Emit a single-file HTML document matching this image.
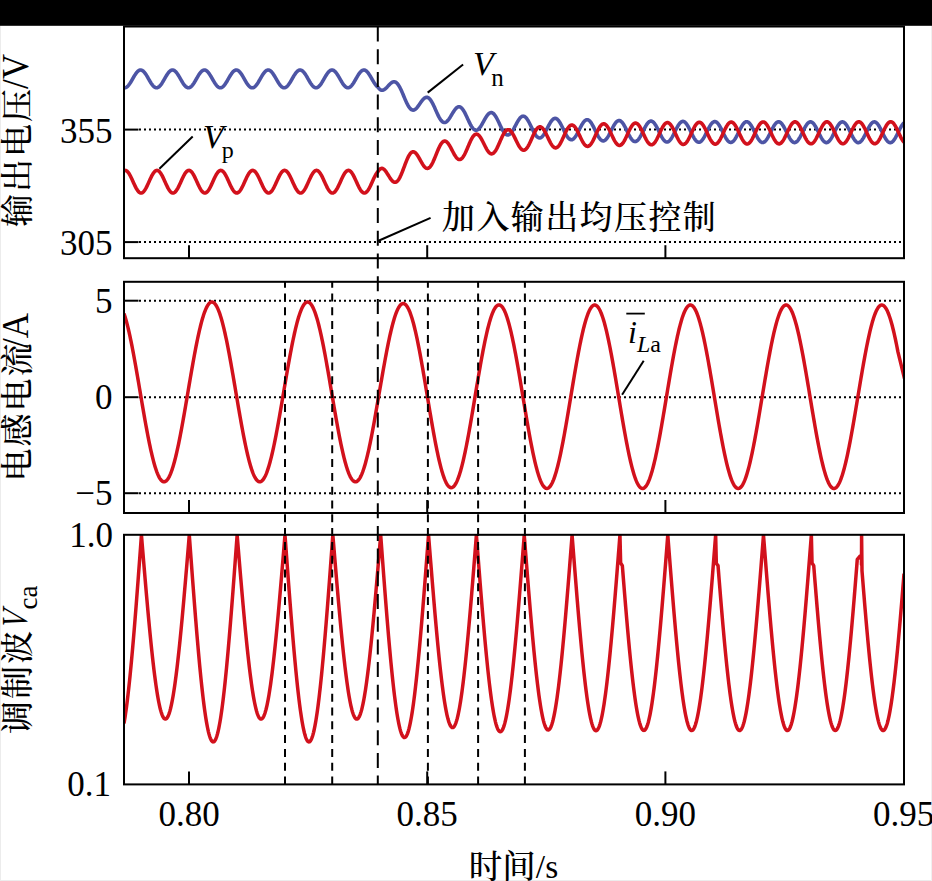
<!DOCTYPE html>
<html><head><meta charset="utf-8"><style>
html,body{margin:0;padding:0;background:#fff;}
body{width:932px;height:881px;overflow:hidden;}
svg{display:block;}
</style></head><body>
<svg width="932" height="881" viewBox="0 0 932 881">
<rect x="0" y="0" width="932" height="881" fill="#fff"/>
<rect x="0" y="0" width="1" height="881" fill="#ececec"/>
<rect x="0" y="880" width="932" height="1" fill="#ececec"/>
<rect x="931" y="0" width="1" height="881" fill="#f0f0f0"/>
<line x1="139" y1="129.6" x2="903.0" y2="129.6" stroke="#000" stroke-width="2" stroke-dasharray="2 3"/>
<line x1="139" y1="242.1" x2="903.0" y2="242.1" stroke="#000" stroke-width="2" stroke-dasharray="2 3"/>
<line x1="139" y1="300.7" x2="903.0" y2="300.7" stroke="#000" stroke-width="2" stroke-dasharray="2 3"/>
<line x1="139" y1="397.2" x2="903.0" y2="397.2" stroke="#000" stroke-width="2" stroke-dasharray="2 3"/>
<line x1="139" y1="493.2" x2="903.0" y2="493.2" stroke="#000" stroke-width="2" stroke-dasharray="2 3"/>
<defs><clipPath id="c0"><rect x="124.0" y="26.5" width="780.0" height="231.7"/></clipPath><clipPath id="c1"><rect x="124.0" y="281.8" width="780.0" height="231.2"/></clipPath><clipPath id="c2"><rect x="124.0" y="534.8" width="780.0" height="249.60000000000002"/></clipPath></defs>
<g clip-path="url(#c0)"><path d="M124.00,87.73 L124.50,87.80 L125.00,87.78 L125.50,87.68 L126.00,87.49 L126.50,87.22 L127.00,86.86 L127.50,86.43 L128.00,85.93 L128.50,85.36 L129.00,84.73 L129.50,84.04 L130.00,83.30 L130.50,82.52 L131.00,81.70 L131.50,80.86 L132.00,79.99 L132.50,79.12 L133.00,78.24 L133.50,77.37 L134.00,76.52 L134.50,75.69 L135.00,74.89 L135.50,74.13 L136.00,73.41 L136.50,72.75 L137.00,72.15 L137.50,71.61 L138.00,71.14 L138.50,70.75 L139.00,70.44 L139.50,70.21 L140.00,70.06 L140.50,70.00 L141.00,70.03 L141.50,70.14 L142.00,70.34 L142.50,70.62 L143.00,70.98 L143.50,71.41 L144.00,71.92 L144.50,72.50 L145.00,73.14 L145.50,73.83 L146.00,74.58 L146.50,75.36 L147.00,76.18 L147.50,77.03 L148.00,77.89 L148.50,78.77 L149.00,79.64 L149.50,80.51 L150.00,81.37 L150.50,82.19 L151.00,82.99 L151.50,83.75 L152.00,84.46 L152.50,85.12 L153.00,85.71 L153.50,86.24 L154.00,86.70 L154.50,87.08 L155.00,87.39 L155.50,87.61 L156.00,87.75 L156.50,87.80 L157.00,87.77 L157.50,87.64 L158.00,87.44 L158.50,87.15 L159.00,86.78 L159.50,86.34 L160.00,85.82 L160.50,85.24 L161.00,84.59 L161.50,83.89 L162.00,83.15 L162.50,82.36 L163.00,81.53 L163.50,80.68 L164.00,79.82 L164.50,78.94 L165.00,78.07 L165.50,77.20 L166.00,76.35 L166.50,75.52 L167.00,74.73 L167.50,73.98 L168.00,73.27 L168.50,72.62 L169.00,72.03 L169.50,71.51 L170.00,71.06 L170.50,70.68 L171.00,70.39 L171.50,70.17 L172.00,70.04 L172.50,70.00 L173.00,70.04 L173.50,70.17 L174.00,70.39 L174.50,70.68 L175.00,71.06 L175.50,71.51 L176.00,72.03 L176.50,72.62 L177.00,73.27 L177.50,73.98 L178.00,74.73 L178.50,75.52 L179.00,76.35 L179.50,77.20 L180.00,78.07 L180.50,78.94 L181.00,79.82 L181.50,80.68 L182.00,81.53 L182.50,82.36 L183.00,83.15 L183.50,83.89 L184.00,84.59 L184.50,85.24 L185.00,85.82 L185.50,86.34 L186.00,86.78 L186.50,87.15 L187.00,87.44 L187.50,87.64 L188.00,87.77 L188.50,87.80 L189.00,87.75 L189.50,87.61 L190.00,87.39 L190.50,87.08 L191.00,86.70 L191.50,86.24 L192.00,85.71 L192.50,85.12 L193.00,84.46 L193.50,83.75 L194.00,82.99 L194.50,82.19 L195.00,81.37 L195.50,80.51 L196.00,79.64 L196.50,78.77 L197.00,77.89 L197.50,77.03 L198.00,76.18 L198.50,75.36 L199.00,74.58 L199.50,73.83 L200.00,73.14 L200.50,72.50 L201.00,71.92 L201.50,71.41 L202.00,70.98 L202.50,70.62 L203.00,70.34 L203.50,70.14 L204.00,70.03 L204.50,70.00 L205.00,70.06 L205.50,70.21 L206.00,70.44 L206.50,70.75 L207.00,71.14 L207.50,71.61 L208.00,72.15 L208.50,72.75 L209.00,73.41 L209.50,74.13 L210.00,74.89 L210.50,75.69 L211.00,76.52 L211.50,77.37 L212.00,78.24 L212.50,79.12 L213.00,79.99 L213.50,80.86 L214.00,81.70 L214.50,82.52 L215.00,83.30 L215.50,84.04 L216.00,84.73 L216.50,85.36 L217.00,85.93 L217.50,86.43 L218.00,86.86 L218.50,87.22 L219.00,87.49 L219.50,87.68 L220.00,87.78 L220.50,87.80 L221.00,87.73 L221.50,87.57 L222.00,87.33 L222.50,87.01 L223.00,86.61 L223.50,86.14 L224.00,85.60 L224.50,84.99 L225.00,84.32 L225.50,83.60 L226.00,82.83 L226.50,82.03 L227.00,81.20 L227.50,80.34 L228.00,79.47 L228.50,78.59 L229.00,77.72 L229.50,76.86 L230.00,76.02 L230.50,75.20 L231.00,74.42 L231.50,73.69 L232.00,73.01 L232.50,72.38 L233.00,71.81 L233.50,71.32 L234.00,70.90 L234.50,70.55 L235.00,70.29 L235.50,70.11 L236.00,70.02 L236.50,70.01 L237.00,70.08 L237.50,70.25 L238.00,70.49 L238.50,70.82 L239.00,71.23 L239.50,71.71 L240.00,72.26 L240.50,72.88 L241.00,73.55 L241.50,74.27 L242.00,75.04 L242.50,75.85 L243.00,76.69 L243.50,77.55 L244.00,78.42 L244.50,79.29 L245.00,80.17 L245.50,81.03 L246.00,81.87 L246.50,82.68 L247.00,83.45 L247.50,84.18 L248.00,84.86 L248.50,85.48 L249.00,86.04 L249.50,86.53 L250.00,86.94 L250.50,87.28 L251.00,87.53 L251.50,87.70 L252.00,87.79 L252.50,87.79 L253.00,87.70 L253.50,87.53 L254.00,87.28 L254.50,86.94 L255.00,86.53 L255.50,86.04 L256.00,85.48 L256.50,84.86 L257.00,84.18 L257.50,83.45 L258.00,82.68 L258.50,81.87 L259.00,81.03 L259.50,80.17 L260.00,79.29 L260.50,78.42 L261.00,77.55 L261.50,76.69 L262.00,75.85 L262.50,75.04 L263.00,74.27 L263.50,73.55 L264.00,72.88 L264.50,72.26 L265.00,71.71 L265.50,71.23 L266.00,70.82 L266.50,70.49 L267.00,70.25 L267.50,70.08 L268.00,70.01 L268.50,70.02 L269.00,70.11 L269.50,70.29 L270.00,70.55 L270.50,70.90 L271.00,71.32 L271.50,71.81 L272.00,72.38 L272.50,73.01 L273.00,73.69 L273.50,74.42 L274.00,75.20 L274.50,76.02 L275.00,76.86 L275.50,77.72 L276.00,78.59 L276.50,79.47 L277.00,80.34 L277.50,81.20 L278.00,82.03 L278.50,82.83 L279.00,83.60 L279.50,84.32 L280.00,84.99 L280.50,85.60 L281.00,86.14 L281.50,86.61 L282.00,87.01 L282.50,87.33 L283.00,87.57 L283.50,87.73 L284.00,87.80 L284.50,87.78 L285.00,87.68 L285.50,87.49 L286.00,87.22 L286.50,86.86 L287.00,86.43 L287.50,85.93 L288.00,85.36 L288.50,84.73 L289.00,84.04 L289.50,83.30 L290.00,82.52 L290.50,81.70 L291.00,80.86 L291.50,79.99 L292.00,79.12 L292.50,78.24 L293.00,77.37 L293.50,76.52 L294.00,75.69 L294.50,74.89 L295.00,74.13 L295.50,73.41 L296.00,72.75 L296.50,72.15 L297.00,71.61 L297.50,71.14 L298.00,70.75 L298.50,70.44 L299.00,70.21 L299.50,70.06 L300.00,70.00 L300.50,70.03 L301.00,70.14 L301.50,70.34 L302.00,70.62 L302.50,70.98 L303.00,71.41 L303.50,71.92 L304.00,72.50 L304.50,73.14 L305.00,73.83 L305.50,74.58 L306.00,75.36 L306.50,76.18 L307.00,77.03 L307.50,77.89 L308.00,78.77 L308.50,79.64 L309.00,80.51 L309.50,81.37 L310.00,82.19 L310.50,82.99 L311.00,83.75 L311.50,84.46 L312.00,85.12 L312.50,85.71 L313.00,86.24 L313.50,86.70 L314.00,87.08 L314.50,87.39 L315.00,87.61 L315.50,87.75 L316.00,87.80 L316.50,87.77 L317.00,87.64 L317.50,87.44 L318.00,87.15 L318.50,86.78 L319.00,86.34 L319.50,85.82 L320.00,85.24 L320.50,84.59 L321.00,83.89 L321.50,83.15 L322.00,82.36 L322.50,81.53 L323.00,80.68 L323.50,79.82 L324.00,78.94 L324.50,78.07 L325.00,77.20 L325.50,76.35 L326.00,75.52 L326.50,74.73 L327.00,73.98 L327.50,73.27 L328.00,72.62 L328.50,72.03 L329.00,71.51 L329.50,71.06 L330.00,70.68 L330.50,70.39 L331.00,70.17 L331.50,70.04 L332.00,70.00 L332.50,70.04 L333.00,70.17 L333.50,70.39 L334.00,70.68 L334.50,71.06 L335.00,71.51 L335.50,72.03 L336.00,72.62 L336.50,73.27 L337.00,73.98 L337.50,74.73 L338.00,75.52 L338.50,76.35 L339.00,77.20 L339.50,78.07 L340.00,78.94 L340.50,79.82 L341.00,80.68 L341.50,81.53 L342.00,82.36 L342.50,83.15 L343.00,83.89 L343.50,84.59 L344.00,85.24 L344.50,85.82 L345.00,86.34 L345.50,86.78 L346.00,87.15 L346.50,87.44 L347.00,87.64 L347.50,87.77 L348.00,87.80 L348.50,87.75 L349.00,87.61 L349.50,87.39 L350.00,87.08 L350.50,86.70 L351.00,86.24 L351.50,85.71 L352.00,85.12 L352.50,84.46 L353.00,83.75 L353.50,82.99 L354.00,82.19 L354.50,81.37 L355.00,80.51 L355.50,79.64 L356.00,78.77 L356.50,77.89 L357.00,77.03 L357.50,76.18 L358.00,75.36 L358.50,74.58 L359.00,73.83 L359.50,73.14 L360.00,72.50 L360.50,71.92 L361.00,71.41 L361.50,70.98 L362.00,70.62 L362.50,70.34 L363.00,70.14 L363.50,70.03 L364.00,70.00 L364.50,70.06 L365.00,70.21 L365.50,70.44 L366.00,70.75 L366.50,71.14 L367.00,71.61 L367.50,72.15 L368.00,72.75 L368.50,73.41 L369.00,74.13 L369.50,74.89 L370.00,75.69 L370.50,76.52 L371.00,77.37 L371.50,78.24 L372.00,79.12 L372.50,79.99 L373.00,80.86 L373.50,81.70 L374.00,82.52 L374.50,83.30 L375.00,84.04 L375.50,84.73 L376.00,85.36 L376.50,85.93 L377.00,86.43 L377.50,86.86 L378.00,87.22 L378.50,87.90 L379.00,88.50 L379.50,89.01 L380.00,89.43 L380.50,89.77 L381.00,90.01 L381.50,90.17 L382.00,90.23 L382.50,90.22 L383.00,90.13 L383.50,89.96 L384.00,89.72 L384.50,89.41 L385.00,89.05 L385.50,88.64 L386.00,88.19 L386.50,87.70 L387.00,87.18 L387.50,86.64 L388.00,86.09 L388.50,85.55 L389.00,85.00 L389.50,84.48 L390.00,83.98 L390.50,83.51 L391.00,83.08 L391.50,82.70 L392.00,82.38 L392.50,82.11 L393.00,81.92 L393.50,81.79 L394.00,81.75 L394.50,81.78 L395.00,81.90 L395.50,82.10 L396.00,82.40 L396.50,82.77 L397.00,83.24 L397.50,83.79 L398.00,84.43 L398.50,85.14 L399.00,85.93 L399.50,86.80 L400.00,87.72 L400.50,88.71 L401.00,89.76 L401.50,90.85 L402.00,91.97 L402.50,93.13 L403.00,94.31 L403.50,95.51 L404.00,96.70 L404.50,97.90 L405.00,99.08 L405.50,100.23 L406.00,101.36 L406.50,102.45 L407.00,103.48 L407.50,104.47 L408.00,105.39 L408.50,106.24 L409.00,107.02 L409.50,107.72 L410.00,108.34 L410.50,108.86 L411.00,109.30 L411.50,109.64 L412.00,109.89 L412.50,110.05 L413.00,110.11 L413.50,110.08 L414.00,109.96 L414.50,109.76 L415.00,109.47 L415.50,109.11 L416.00,108.67 L416.50,108.18 L417.00,107.62 L417.50,107.01 L418.00,106.36 L418.50,105.68 L419.00,104.97 L419.50,104.25 L420.00,103.52 L420.50,102.79 L421.00,102.07 L421.50,101.38 L422.00,100.71 L422.50,100.08 L423.00,99.50 L423.50,98.97 L424.00,98.50 L424.50,98.10 L425.00,97.77 L425.50,97.52 L426.00,97.36 L426.50,97.28 L427.00,97.29 L427.50,97.39 L428.00,97.59 L428.50,97.87 L429.00,98.25 L429.50,98.72 L430.00,99.28 L430.50,99.92 L431.00,100.63 L431.50,101.43 L432.00,102.29 L432.50,103.21 L433.00,104.19 L433.50,105.22 L434.00,106.28 L434.50,107.37 L435.00,108.49 L435.50,109.62 L436.00,110.75 L436.50,111.87 L437.00,112.98 L437.50,114.07 L438.00,115.12 L438.50,116.12 L439.00,117.08 L439.50,117.98 L440.00,118.81 L440.50,119.57 L441.00,120.26 L441.50,120.86 L442.00,121.37 L442.50,121.79 L443.00,122.11 L443.50,122.35 L444.00,122.48 L444.50,122.52 L445.00,122.46 L445.50,122.31 L446.00,122.07 L446.50,121.74 L447.00,121.33 L447.50,120.84 L448.00,120.28 L448.50,119.66 L449.00,118.98 L449.50,118.25 L450.00,117.48 L450.50,116.67 L451.00,115.85 L451.50,115.01 L452.00,114.17 L452.50,113.33 L453.00,112.51 L453.50,111.71 L454.00,110.94 L454.50,110.22 L455.00,109.54 L455.50,108.93 L456.00,108.38 L456.50,107.90 L457.00,107.50 L457.50,107.18 L458.00,106.95 L458.50,106.81 L459.00,106.76 L459.50,106.81 L460.00,106.95 L460.50,107.19 L461.00,107.52 L461.50,107.94 L462.00,108.46 L462.50,109.06 L463.00,109.74 L463.50,110.50 L464.00,111.32 L464.50,112.21 L465.00,113.15 L465.50,114.14 L466.00,115.17 L466.50,116.23 L467.00,117.30 L467.50,118.39 L468.00,119.48 L468.50,120.56 L469.00,121.63 L469.50,122.66 L470.00,123.66 L470.50,124.62 L471.00,125.52 L471.50,126.36 L472.00,127.13 L472.50,127.83 L473.00,128.44 L473.50,128.98 L474.00,129.42 L474.50,129.76 L475.00,130.01 L475.50,130.17 L476.00,130.22 L476.50,130.18 L477.00,130.04 L477.50,129.81 L478.00,129.48 L478.50,129.07 L479.00,128.58 L479.50,128.01 L480.00,127.36 L480.50,126.66 L481.00,125.90 L481.50,125.09 L482.00,124.24 L482.50,123.36 L483.00,122.46 L483.50,121.55 L484.00,120.64 L484.50,119.74 L485.00,118.85 L485.50,117.99 L486.00,117.17 L486.50,116.39 L487.00,115.67 L487.50,115.00 L488.00,114.41 L488.50,113.89 L489.00,113.45 L489.50,113.09 L490.00,112.83 L490.50,112.66 L491.00,112.58 L491.50,112.60 L492.00,112.72 L492.50,112.94 L493.00,113.25 L493.50,113.66 L494.00,114.15 L494.50,114.74 L495.00,115.40 L495.50,116.14 L496.00,116.95 L496.50,117.82 L497.00,118.74 L497.50,119.71 L498.00,120.72 L498.50,121.76 L499.00,122.81 L499.50,123.88 L500.00,124.94 L500.50,125.99 L501.00,127.03 L501.50,128.03 L502.00,128.99 L502.50,129.91 L503.00,130.77 L503.50,131.57 L504.00,132.30 L504.50,132.95 L505.00,133.52 L505.50,134.00 L506.00,134.39 L506.50,134.69 L507.00,134.88 L507.50,134.98 L508.00,134.98 L508.50,134.88 L509.00,134.69 L509.50,134.39 L510.00,134.01 L510.50,133.54 L511.00,132.99 L511.50,132.36 L512.00,131.66 L512.50,130.90 L513.00,130.09 L513.50,129.22 L514.00,128.33 L514.50,127.40 L515.00,126.45 L515.50,125.50 L516.00,124.55 L516.50,123.60 L517.00,122.68 L517.50,121.79 L518.00,120.93 L518.50,120.13 L519.00,119.38 L519.50,118.69 L520.00,118.07 L520.50,117.53 L521.00,117.08 L521.50,116.71 L522.00,116.43 L522.50,116.25 L523.00,116.16 L523.50,116.18 L524.00,116.29 L524.50,116.50 L525.00,116.81 L525.50,117.21 L526.00,117.70 L526.50,118.28 L527.00,118.94 L527.50,119.67 L528.00,120.48 L528.50,121.34 L529.00,122.26 L529.50,123.22 L530.00,124.22 L530.50,125.24 L531.00,126.29 L531.50,127.33 L532.00,128.38 L532.50,129.41 L533.00,130.43 L533.50,131.41 L534.00,132.35 L534.50,133.24 L535.00,134.07 L535.50,134.84 L536.00,135.54 L536.50,136.15 L537.00,136.68 L537.50,137.13 L538.00,137.48 L538.50,137.73 L539.00,137.89 L539.50,137.94 L540.00,137.90 L540.50,137.76 L541.00,137.52 L541.50,137.18 L542.00,136.76 L542.50,136.24 L543.00,135.65 L543.50,134.98 L544.00,134.24 L544.50,133.44 L545.00,132.59 L545.50,131.70 L546.00,130.76 L546.50,129.81 L547.00,128.83 L547.50,127.85 L548.00,126.87 L548.50,125.91 L549.00,124.96 L549.50,124.05 L550.00,123.18 L550.50,122.36 L551.00,121.60 L551.50,120.91 L552.00,120.28 L552.50,119.74 L553.00,119.28 L553.50,118.91 L554.00,118.63 L554.50,118.45 L555.00,118.37 L555.50,118.38 L556.00,118.50 L556.50,118.71 L557.00,119.03 L557.50,119.43 L558.00,119.93 L558.50,120.51 L559.00,121.17 L559.50,121.91 L560.00,122.72 L560.50,123.58 L561.00,124.50 L561.50,125.46 L562.00,126.45 L562.50,127.47 L563.00,128.50 L563.50,129.54 L564.00,130.58 L564.50,131.60 L565.00,132.60 L565.50,133.56 L566.00,134.48 L566.50,135.35 L567.00,136.16 L567.50,136.90 L568.00,137.57 L568.50,138.16 L569.00,138.66 L569.50,139.08 L570.00,139.40 L570.50,139.62 L571.00,139.74 L571.50,139.76 L572.00,139.68 L572.50,139.51 L573.00,139.23 L573.50,138.86 L574.00,138.40 L574.50,137.86 L575.00,137.23 L575.50,136.53 L576.00,135.77 L576.50,134.94 L577.00,134.06 L577.50,133.14 L578.00,132.19 L578.50,131.21 L579.00,130.22 L579.50,129.22 L580.00,128.23 L580.50,127.25 L581.00,126.30 L581.50,125.38 L582.00,124.50 L582.50,123.68 L583.00,122.91 L583.50,122.22 L584.00,121.60 L584.50,121.06 L585.00,120.60 L585.50,120.24 L586.00,119.97 L586.50,119.79 L587.00,119.72 L587.50,119.75 L588.00,119.87 L588.50,120.10 L589.00,120.42 L589.50,120.84 L590.00,121.34 L590.50,121.93 L591.00,122.61 L591.50,123.35 L592.00,124.16 L592.50,125.03 L593.00,125.95 L593.50,126.91 L594.00,127.90 L594.50,128.92 L595.00,129.95 L595.50,130.98 L596.00,132.01 L596.50,133.02 L597.00,134.01 L597.50,134.95 L598.00,135.86 L598.50,136.71 L599.00,137.50 L599.50,138.22 L600.00,138.87 L600.50,139.44 L601.00,139.91 L601.50,140.30 L602.00,140.59 L602.50,140.79 L603.00,140.88 L603.50,140.87 L604.00,140.77 L604.50,140.56 L605.00,140.26 L605.50,139.86 L606.00,139.38 L606.50,138.81 L607.00,138.15 L607.50,137.43 L608.00,136.64 L608.50,135.79 L609.00,134.90 L609.50,133.96 L610.00,132.99 L610.50,132.00 L611.00,130.99 L611.50,129.98 L612.00,128.98 L612.50,128.00 L613.00,127.04 L613.50,126.12 L614.00,125.25 L614.50,124.43 L615.00,123.67 L615.50,122.98 L616.00,122.36 L616.50,121.83 L617.00,121.39 L617.50,121.03 L618.00,120.77 L618.50,120.62 L619.00,120.56 L619.50,120.60 L620.00,120.74 L620.50,120.97 L621.00,121.31 L621.50,121.74 L622.00,122.26 L622.50,122.86 L623.00,123.54 L623.50,124.30 L624.00,125.11 L624.50,125.99 L625.00,126.92 L625.50,127.88 L626.00,128.88 L626.50,129.89 L627.00,130.92 L627.50,131.95 L628.00,132.97 L628.50,133.97 L629.00,134.95 L629.50,135.88 L630.00,136.77 L630.50,137.61 L631.00,138.38 L631.50,139.09 L632.00,139.71 L632.50,140.26 L633.00,140.71 L633.50,141.08 L634.00,141.34 L634.50,141.51 L635.00,141.58 L635.50,141.55 L636.00,141.42 L636.50,141.19 L637.00,140.86 L637.50,140.44 L638.00,139.93 L638.50,139.34 L639.00,138.66 L639.50,137.92 L640.00,137.11 L640.50,136.25 L641.00,135.34 L641.50,134.38 L642.00,133.40 L642.50,132.40 L643.00,131.39 L643.50,130.37 L644.00,129.37 L644.50,128.39 L645.00,127.43 L645.50,126.51 L646.00,125.64 L646.50,124.83 L647.00,124.08 L647.50,123.39 L648.00,122.79 L648.50,122.27 L649.00,121.84 L649.50,121.50 L650.00,121.26 L650.50,121.11 L651.00,121.07 L651.50,121.13 L652.00,121.28 L652.50,121.54 L653.00,121.89 L653.50,122.33 L654.00,122.87 L654.50,123.48 L655.00,124.18 L655.50,124.94 L656.00,125.77 L656.50,126.65 L657.00,127.58 L657.50,128.55 L658.00,129.55 L658.50,130.57 L659.00,131.60 L659.50,132.62 L660.00,133.64 L660.50,134.63 L661.00,135.60 L661.50,136.52 L662.00,137.40 L662.50,138.22 L663.00,138.98 L663.50,139.67 L664.00,140.28 L664.50,140.80 L665.00,141.23 L665.50,141.58 L666.00,141.82 L666.50,141.97 L667.00,142.01 L667.50,141.96 L668.00,141.80 L668.50,141.55 L669.00,141.20 L669.50,140.75 L670.00,140.22 L670.50,139.61 L671.00,138.92 L671.50,138.16 L672.00,137.34 L672.50,136.46 L673.00,135.53 L673.50,134.57 L674.00,133.58 L674.50,132.57 L675.00,131.55 L675.50,130.54 L676.00,129.53 L676.50,128.55 L677.00,127.60 L677.50,126.69 L678.00,125.82 L678.50,125.01 L679.00,124.27 L679.50,123.60 L680.00,123.01 L680.50,122.51 L681.00,122.09 L681.50,121.77 L682.00,121.54 L682.50,121.42 L683.00,121.39 L683.50,121.47 L684.00,121.64 L684.50,121.91 L685.00,122.28 L685.50,122.74 L686.00,123.29 L686.50,123.92 L687.00,124.63 L687.50,125.40 L688.00,126.24 L688.50,127.13 L689.00,128.07 L689.50,129.05 L690.00,130.05 L690.50,131.06 L691.00,132.09 L691.50,133.11 L692.00,134.12 L692.50,135.11 L693.00,136.07 L693.50,136.99 L694.00,137.85 L694.50,138.66 L695.00,139.40 L695.50,140.07 L696.00,140.66 L696.50,141.17 L697.00,141.58 L697.50,141.90 L698.00,142.12 L698.50,142.25 L699.00,142.27 L699.50,142.19 L700.00,142.02 L700.50,141.74 L701.00,141.37 L701.50,140.91 L702.00,140.36 L702.50,139.73 L703.00,139.02 L703.50,138.24 L704.00,137.40 L704.50,136.51 L705.00,135.58 L705.50,134.61 L706.00,133.61 L706.50,132.60 L707.00,131.58 L707.50,130.56 L708.00,129.56 L708.50,128.58 L709.00,127.63 L709.50,126.72 L710.00,125.87 L710.50,125.07 L711.00,124.34 L711.50,123.69 L712.00,123.11 L712.50,122.62 L713.00,122.22 L713.50,121.92 L714.00,121.71 L714.50,121.60 L715.00,121.59 L715.50,121.69 L716.00,121.88 L716.50,122.17 L717.00,122.56 L717.50,123.03 L718.00,123.60 L718.50,124.24 L719.00,124.96 L719.50,125.75 L720.00,126.60 L720.50,127.50 L721.00,128.45 L721.50,129.42 L722.00,130.43 L722.50,131.45 L723.00,132.47 L723.50,133.49 L724.00,134.50 L724.50,135.48 L725.00,136.43 L725.50,137.34 L726.00,138.19 L726.50,138.99 L727.00,139.71 L727.50,140.37 L728.00,140.94 L728.50,141.42 L729.00,141.82 L729.50,142.12 L730.00,142.32 L730.50,142.42 L731.00,142.43 L731.50,142.33 L732.00,142.13 L732.50,141.83 L733.00,141.44 L733.50,140.96 L734.00,140.39 L734.50,139.74 L735.00,139.02 L735.50,138.23 L736.00,137.38 L736.50,136.48 L737.00,135.53 L737.50,134.55 L738.00,133.55 L738.50,132.53 L739.00,131.51 L739.50,130.50 L740.00,129.50 L740.50,128.52 L741.00,127.58 L741.50,126.68 L742.00,125.84 L742.50,125.05 L743.00,124.33 L743.50,123.69 L744.00,123.13 L744.50,122.66 L745.00,122.28 L745.50,121.99 L746.00,121.80 L746.50,121.71 L747.00,121.72 L747.50,121.84 L748.00,122.05 L748.50,122.36 L749.00,122.76 L749.50,123.25 L750.00,123.83 L750.50,124.49 L751.00,125.23 L751.50,126.03 L752.00,126.89 L752.50,127.80 L753.00,128.75 L753.50,129.74 L754.00,130.74 L754.50,131.76 L755.00,132.79 L755.50,133.81 L756.00,134.81 L756.50,135.78 L757.00,136.72 L757.50,137.62 L758.00,138.46 L758.50,139.24 L759.00,139.96 L759.50,140.59 L760.00,141.15 L760.50,141.61 L761.00,141.99 L761.50,142.27 L762.00,142.45 L762.50,142.53 L763.00,142.51 L763.50,142.40 L764.00,142.18 L764.50,141.86 L765.00,141.45 L765.50,140.95 L766.00,140.36 L766.50,139.70 L767.00,138.96 L767.50,138.16 L768.00,137.29 L768.50,136.38 L769.00,135.43 L769.50,134.44 L770.00,133.44 L770.50,132.42 L771.00,131.39 L771.50,130.38 L772.00,129.38 L772.50,128.41 L773.00,127.48 L773.50,126.59 L774.00,125.75 L774.50,124.98 L775.00,124.28 L775.50,123.65 L776.00,123.11 L776.50,122.65 L777.00,122.29 L777.50,122.02 L778.00,121.85 L778.50,121.78 L779.00,121.81 L779.50,121.94 L780.00,122.18 L780.50,122.50 L781.00,122.92 L781.50,123.44 L782.00,124.03 L782.50,124.71 L783.00,125.45 L783.50,126.27 L784.00,127.14 L784.50,128.06 L785.00,129.01 L785.50,130.00 L786.00,131.01 L786.50,132.04 L787.00,133.06 L787.50,134.08 L788.00,135.07 L788.50,136.04 L789.00,136.97 L789.50,137.86 L790.00,138.69 L790.50,139.46 L791.00,140.16 L791.50,140.78 L792.00,141.31 L792.50,141.76 L793.00,142.12 L793.50,142.38 L794.00,142.54 L794.50,142.60 L795.00,142.56 L795.50,142.42 L796.00,142.18 L796.50,141.85 L797.00,141.42 L797.50,140.90 L798.00,140.30 L798.50,139.61 L799.00,138.86 L799.50,138.04 L800.00,137.17 L800.50,136.25 L801.00,135.29 L801.50,134.30 L802.00,133.29 L802.50,132.27 L803.00,131.24 L803.50,130.23 L804.00,129.24 L804.50,128.27 L805.00,127.35 L805.50,126.47 L806.00,125.64 L806.50,124.88 L807.00,124.20 L807.50,123.59 L808.00,123.06 L808.50,122.62 L809.00,122.27 L809.50,122.03 L810.00,121.88 L810.50,121.83 L811.00,121.88 L811.50,122.03 L812.00,122.28 L812.50,122.62 L813.00,123.06 L813.50,123.59 L814.00,124.20 L814.50,124.89 L815.00,125.65 L815.50,126.48 L816.00,127.36 L816.50,128.29 L817.00,129.25 L817.50,130.25 L818.00,131.26 L818.50,132.28 L819.00,133.31 L819.50,134.32 L820.00,135.31 L820.50,136.27 L821.00,137.20 L821.50,138.07 L822.00,138.89 L822.50,139.64 L823.00,140.33 L823.50,140.93 L824.00,141.45 L824.50,141.88 L825.00,142.22 L825.50,142.46 L826.00,142.60 L826.50,142.64 L827.00,142.58 L827.50,142.42 L828.00,142.16 L828.50,141.80 L829.00,141.36 L829.50,140.82 L830.00,140.20 L830.50,139.51 L831.00,138.74 L831.50,137.91 L832.00,137.03 L832.50,136.09 L833.00,135.13 L833.50,134.13 L834.00,133.12 L834.50,132.09 L835.00,131.07 L835.50,130.06 L836.00,129.07 L836.50,128.12 L837.00,127.20 L837.50,126.33 L838.00,125.52 L838.50,124.77 L839.00,124.10 L839.50,123.50 L840.00,122.99 L840.50,122.57 L841.00,122.25 L841.50,122.02 L842.00,121.89 L842.50,121.86 L843.00,121.93 L843.50,122.10 L844.00,122.37 L844.50,122.73 L845.00,123.19 L845.50,123.74 L846.00,124.36 L846.50,125.07 L847.00,125.84 L847.50,126.68 L848.00,127.57 L848.50,128.50 L849.00,129.48 L849.50,130.47 L850.00,131.49 L850.50,132.51 L851.00,133.54 L851.50,134.54 L852.00,135.53 L852.50,136.49 L853.00,137.40 L853.50,138.26 L854.00,139.07 L854.50,139.81 L855.00,140.48 L855.50,141.06 L856.00,141.57 L856.50,141.98 L857.00,142.30 L857.50,142.52 L858.00,142.64 L858.50,142.66 L859.00,142.58 L859.50,142.40 L860.00,142.12 L860.50,141.74 L861.00,141.28 L861.50,140.73 L862.00,140.09 L862.50,139.38 L863.00,138.60 L863.50,137.76 L864.00,136.86 L864.50,135.92 L865.00,134.95 L865.50,133.95 L866.00,132.93 L866.50,131.91 L867.00,130.89 L867.50,129.88 L868.00,128.90 L868.50,127.95 L869.00,127.04 L869.50,126.18 L870.00,125.38 L870.50,124.65 L871.00,123.99 L871.50,123.41 L872.00,122.92 L872.50,122.52 L873.00,122.21 L873.50,122.00 L874.00,121.89 L874.50,121.88 L875.00,121.97 L875.50,122.16 L876.00,122.45 L876.50,122.83 L877.00,123.31 L877.50,123.87 L878.00,124.51 L878.50,125.23 L879.00,126.02 L879.50,126.87 L880.00,127.77 L880.50,128.71 L881.00,129.69 L881.50,130.69 L882.00,131.71 L882.50,132.74 L883.00,133.75 L883.50,134.76 L884.00,135.74 L884.50,136.69 L885.00,137.59 L885.50,138.45 L886.00,139.24 L886.50,139.97 L887.00,140.62 L887.50,141.19 L888.00,141.67 L888.50,142.06 L889.00,142.36 L889.50,142.56 L890.00,142.66 L890.50,142.66 L891.00,142.56 L891.50,142.36 L892.00,142.07 L892.50,141.67 L893.00,141.19 L893.50,140.62 L894.00,139.97 L894.50,139.24 L895.00,138.45 L895.50,137.60 L896.00,136.69 L896.50,135.75 L897.00,134.76 L897.50,133.76 L898.00,132.74 L898.50,131.72 L899.00,130.70 L899.50,129.70 L900.00,128.72 L900.50,127.77 L901.00,126.88 L901.50,126.03 L902.00,125.24 L902.50,124.52 L903.00,123.88 L903.50,123.32 L904.00,122.84" fill="none" stroke="#4d55a5" stroke-width="3.6" stroke-linejoin="round"/>
<path d="M124.00,170.66 L124.50,170.48 L125.00,170.40 L125.50,170.44 L126.00,170.58 L126.50,170.83 L127.00,171.18 L127.50,171.64 L128.00,172.19 L128.50,172.84 L129.00,173.57 L129.50,174.38 L130.00,175.27 L130.50,176.21 L131.00,177.21 L131.50,178.25 L132.00,179.33 L132.50,180.42 L133.00,181.53 L133.50,182.64 L134.00,183.75 L134.50,184.83 L135.00,185.88 L135.50,186.89 L136.00,187.86 L136.50,188.76 L137.00,189.59 L137.50,190.35 L138.00,191.02 L138.50,191.60 L139.00,192.09 L139.50,192.48 L140.00,192.76 L140.50,192.93 L141.00,193.00 L141.50,192.96 L142.00,192.80 L142.50,192.54 L143.00,192.18 L143.50,191.71 L144.00,191.15 L144.50,190.49 L145.00,189.75 L145.50,188.93 L146.00,188.04 L146.50,187.09 L147.00,186.09 L147.50,185.04 L148.00,183.97 L148.50,182.87 L149.00,181.76 L149.50,180.64 L150.00,179.54 L150.50,178.46 L151.00,177.41 L151.50,176.41 L152.00,175.45 L152.50,174.56 L153.00,173.73 L153.50,172.98 L154.00,172.32 L154.50,171.74 L155.00,171.27 L155.50,170.89 L156.00,170.62 L156.50,170.45 L157.00,170.40 L157.50,170.45 L158.00,170.62 L158.50,170.89 L159.00,171.27 L159.50,171.74 L160.00,172.32 L160.50,172.98 L161.00,173.73 L161.50,174.56 L162.00,175.45 L162.50,176.41 L163.00,177.41 L163.50,178.46 L164.00,179.54 L164.50,180.64 L165.00,181.76 L165.50,182.87 L166.00,183.97 L166.50,185.04 L167.00,186.09 L167.50,187.09 L168.00,188.04 L168.50,188.93 L169.00,189.75 L169.50,190.49 L170.00,191.15 L170.50,191.71 L171.00,192.18 L171.50,192.54 L172.00,192.80 L172.50,192.96 L173.00,193.00 L173.50,192.93 L174.00,192.76 L174.50,192.48 L175.00,192.09 L175.50,191.60 L176.00,191.02 L176.50,190.35 L177.00,189.59 L177.50,188.76 L178.00,187.86 L178.50,186.89 L179.00,185.88 L179.50,184.83 L180.00,183.75 L180.50,182.64 L181.00,181.53 L181.50,180.42 L182.00,179.33 L182.50,178.25 L183.00,177.21 L183.50,176.21 L184.00,175.27 L184.50,174.38 L185.00,173.57 L185.50,172.84 L186.00,172.19 L186.50,171.64 L187.00,171.18 L187.50,170.83 L188.00,170.58 L188.50,170.44 L189.00,170.40 L189.50,170.48 L190.00,170.66 L190.50,170.96 L191.00,171.35 L191.50,171.85 L192.00,172.44 L192.50,173.12 L193.00,173.89 L193.50,174.73 L194.00,175.64 L194.50,176.60 L195.00,177.62 L195.50,178.68 L196.00,179.76 L196.50,180.87 L197.00,181.98 L197.50,183.09 L198.00,184.18 L198.50,185.26 L199.00,186.29 L199.50,187.29 L200.00,188.22 L200.50,189.10 L201.00,189.90 L201.50,190.63 L202.00,191.27 L202.50,191.81 L203.00,192.26 L203.50,192.60 L204.00,192.84 L204.50,192.97 L205.00,193.00 L205.50,192.91 L206.00,192.71 L206.50,192.41 L207.00,192.00 L207.50,191.50 L208.00,190.89 L208.50,190.20 L209.00,189.43 L209.50,188.58 L210.00,187.67 L210.50,186.70 L211.00,185.68 L211.50,184.62 L212.00,183.53 L212.50,182.42 L213.00,181.31 L213.50,180.20 L214.00,179.11 L214.50,178.04 L215.00,177.01 L215.50,176.02 L216.00,175.09 L216.50,174.22 L217.00,173.42 L217.50,172.70 L218.00,172.08 L218.50,171.54 L219.00,171.10 L219.50,170.77 L220.00,170.54 L220.50,170.42 L221.00,170.41 L221.50,170.51 L222.00,170.71 L222.50,171.03 L223.00,171.44 L223.50,171.96 L224.00,172.57 L224.50,173.27 L225.00,174.05 L225.50,174.91 L226.00,175.83 L226.50,176.80 L227.00,177.83 L227.50,178.89 L228.00,179.98 L228.50,181.09 L229.00,182.20 L229.50,183.31 L230.00,184.40 L230.50,185.47 L231.00,186.50 L231.50,187.48 L232.00,188.40 L232.50,189.27 L233.00,190.06 L233.50,190.76 L234.00,191.38 L234.50,191.91 L235.00,192.34 L235.50,192.66 L236.00,192.88 L236.50,192.99 L237.00,192.99 L237.50,192.88 L238.00,192.66 L238.50,192.34 L239.00,191.91 L239.50,191.38 L240.00,190.76 L240.50,190.06 L241.00,189.27 L241.50,188.40 L242.00,187.48 L242.50,186.50 L243.00,185.47 L243.50,184.40 L244.00,183.31 L244.50,182.20 L245.00,181.09 L245.50,179.98 L246.00,178.89 L246.50,177.83 L247.00,176.80 L247.50,175.83 L248.00,174.91 L248.50,174.05 L249.00,173.27 L249.50,172.57 L250.00,171.96 L250.50,171.44 L251.00,171.03 L251.50,170.71 L252.00,170.51 L252.50,170.41 L253.00,170.42 L253.50,170.54 L254.00,170.77 L254.50,171.10 L255.00,171.54 L255.50,172.08 L256.00,172.70 L256.50,173.42 L257.00,174.22 L257.50,175.09 L258.00,176.02 L258.50,177.01 L259.00,178.04 L259.50,179.11 L260.00,180.20 L260.50,181.31 L261.00,182.42 L261.50,183.53 L262.00,184.62 L262.50,185.68 L263.00,186.70 L263.50,187.67 L264.00,188.58 L264.50,189.43 L265.00,190.20 L265.50,190.89 L266.00,191.50 L266.50,192.00 L267.00,192.41 L267.50,192.71 L268.00,192.91 L268.50,193.00 L269.00,192.97 L269.50,192.84 L270.00,192.60 L270.50,192.26 L271.00,191.81 L271.50,191.27 L272.00,190.63 L272.50,189.90 L273.00,189.10 L273.50,188.22 L274.00,187.29 L274.50,186.29 L275.00,185.26 L275.50,184.18 L276.00,183.09 L276.50,181.98 L277.00,180.87 L277.50,179.76 L278.00,178.68 L278.50,177.62 L279.00,176.60 L279.50,175.64 L280.00,174.73 L280.50,173.89 L281.00,173.12 L281.50,172.44 L282.00,171.85 L282.50,171.35 L283.00,170.96 L283.50,170.66 L284.00,170.48 L284.50,170.40 L285.00,170.44 L285.50,170.58 L286.00,170.83 L286.50,171.18 L287.00,171.64 L287.50,172.19 L288.00,172.84 L288.50,173.57 L289.00,174.38 L289.50,175.27 L290.00,176.21 L290.50,177.21 L291.00,178.25 L291.50,179.33 L292.00,180.42 L292.50,181.53 L293.00,182.64 L293.50,183.75 L294.00,184.83 L294.50,185.88 L295.00,186.89 L295.50,187.86 L296.00,188.76 L296.50,189.59 L297.00,190.35 L297.50,191.02 L298.00,191.60 L298.50,192.09 L299.00,192.48 L299.50,192.76 L300.00,192.93 L300.50,193.00 L301.00,192.96 L301.50,192.80 L302.00,192.54 L302.50,192.18 L303.00,191.71 L303.50,191.15 L304.00,190.49 L304.50,189.75 L305.00,188.93 L305.50,188.04 L306.00,187.09 L306.50,186.09 L307.00,185.04 L307.50,183.97 L308.00,182.87 L308.50,181.76 L309.00,180.64 L309.50,179.54 L310.00,178.46 L310.50,177.41 L311.00,176.41 L311.50,175.45 L312.00,174.56 L312.50,173.73 L313.00,172.98 L313.50,172.32 L314.00,171.74 L314.50,171.27 L315.00,170.89 L315.50,170.62 L316.00,170.45 L316.50,170.40 L317.00,170.45 L317.50,170.62 L318.00,170.89 L318.50,171.27 L319.00,171.74 L319.50,172.32 L320.00,172.98 L320.50,173.73 L321.00,174.56 L321.50,175.45 L322.00,176.41 L322.50,177.41 L323.00,178.46 L323.50,179.54 L324.00,180.64 L324.50,181.76 L325.00,182.87 L325.50,183.97 L326.00,185.04 L326.50,186.09 L327.00,187.09 L327.50,188.04 L328.00,188.93 L328.50,189.75 L329.00,190.49 L329.50,191.15 L330.00,191.71 L330.50,192.18 L331.00,192.54 L331.50,192.80 L332.00,192.96 L332.50,193.00 L333.00,192.93 L333.50,192.76 L334.00,192.48 L334.50,192.09 L335.00,191.60 L335.50,191.02 L336.00,190.35 L336.50,189.59 L337.00,188.76 L337.50,187.86 L338.00,186.89 L338.50,185.88 L339.00,184.83 L339.50,183.75 L340.00,182.64 L340.50,181.53 L341.00,180.42 L341.50,179.33 L342.00,178.25 L342.50,177.21 L343.00,176.21 L343.50,175.27 L344.00,174.38 L344.50,173.57 L345.00,172.84 L345.50,172.19 L346.00,171.64 L346.50,171.18 L347.00,170.83 L347.50,170.58 L348.00,170.44 L348.50,170.40 L349.00,170.48 L349.50,170.66 L350.00,170.96 L350.50,171.35 L351.00,171.85 L351.50,172.44 L352.00,173.12 L352.50,173.89 L353.00,174.73 L353.50,175.64 L354.00,176.60 L354.50,177.62 L355.00,178.68 L355.50,179.76 L356.00,180.87 L356.50,181.98 L357.00,183.09 L357.50,184.18 L358.00,185.26 L358.50,186.29 L359.00,187.29 L359.50,188.22 L360.00,189.10 L360.50,189.90 L361.00,190.63 L361.50,191.27 L362.00,191.81 L362.50,192.26 L363.00,192.60 L363.50,192.84 L364.00,192.97 L364.50,193.00 L365.00,192.91 L365.50,192.71 L366.00,192.41 L366.50,192.00 L367.00,191.50 L367.50,190.89 L368.00,190.20 L368.50,189.43 L369.00,188.58 L369.50,187.67 L370.00,186.70 L370.50,185.68 L371.00,184.62 L371.50,183.53 L372.00,182.42 L372.50,181.31 L373.00,180.20 L373.50,179.11 L374.00,178.04 L374.50,177.01 L375.00,176.02 L375.50,175.09 L376.00,174.22 L376.50,173.42 L377.00,172.70 L377.50,172.08 L378.00,171.54 L378.50,170.77 L379.00,170.10 L379.50,169.54 L380.00,169.09 L380.50,168.75 L381.00,168.52 L381.50,168.40 L382.00,168.39 L382.50,168.49 L383.00,168.69 L383.50,168.99 L384.00,169.37 L384.50,169.84 L385.00,170.38 L385.50,170.99 L386.00,171.67 L386.50,172.38 L387.00,173.14 L387.50,173.93 L388.00,174.74 L388.50,175.55 L389.00,176.36 L389.50,177.16 L390.00,177.93 L390.50,178.67 L391.00,179.36 L391.50,180.00 L392.00,180.57 L392.50,181.08 L393.00,181.50 L393.50,181.84 L394.00,182.09 L394.50,182.24 L395.00,182.29 L395.50,182.24 L396.00,182.08 L396.50,181.82 L397.00,181.44 L397.50,180.96 L398.00,180.38 L398.50,179.70 L399.00,178.92 L399.50,178.05 L400.00,177.10 L400.50,176.06 L401.00,174.96 L401.50,173.79 L402.00,172.57 L402.50,171.30 L403.00,170.00 L403.50,168.68 L404.00,167.34 L404.50,166.01 L405.00,164.67 L405.50,163.36 L406.00,162.08 L406.50,160.83 L407.00,159.63 L407.50,158.49 L408.00,157.42 L408.50,156.43 L409.00,155.51 L409.50,154.69 L410.00,153.96 L410.50,153.33 L411.00,152.81 L411.50,152.39 L412.00,152.08 L412.50,151.88 L413.00,151.79 L413.50,151.81 L414.00,151.93 L414.50,152.16 L415.00,152.49 L415.50,152.91 L416.00,153.42 L416.50,154.00 L417.00,154.67 L417.50,155.39 L418.00,156.17 L418.50,157.00 L419.00,157.86 L419.50,158.75 L420.00,159.66 L420.50,160.57 L421.00,161.47 L421.50,162.36 L422.00,163.22 L422.50,164.05 L423.00,164.82 L423.50,165.54 L424.00,166.20 L424.50,166.78 L425.00,167.29 L425.50,167.70 L426.00,168.03 L426.50,168.25 L427.00,168.38 L427.50,168.40 L428.00,168.31 L428.50,168.12 L429.00,167.82 L429.50,167.42 L430.00,166.91 L430.50,166.31 L431.00,165.60 L431.50,164.81 L432.00,163.93 L432.50,162.98 L433.00,161.96 L433.50,160.87 L434.00,159.74 L434.50,158.56 L435.00,157.35 L435.50,156.12 L436.00,154.87 L436.50,153.62 L437.00,152.38 L437.50,151.17 L438.00,149.98 L438.50,148.83 L439.00,147.73 L439.50,146.69 L440.00,145.72 L440.50,144.82 L441.00,144.01 L441.50,143.29 L442.00,142.66 L442.50,142.13 L443.00,141.71 L443.50,141.39 L444.00,141.17 L444.50,141.07 L445.00,141.08 L445.50,141.19 L446.00,141.41 L446.50,141.73 L447.00,142.14 L447.50,142.65 L448.00,143.24 L448.50,143.91 L449.00,144.65 L449.50,145.45 L450.00,146.31 L450.50,147.21 L451.00,148.14 L451.50,149.10 L452.00,150.07 L452.50,151.04 L453.00,152.00 L453.50,152.95 L454.00,153.86 L454.50,154.74 L455.00,155.57 L455.50,156.33 L456.00,157.04 L456.50,157.67 L457.00,158.21 L457.50,158.67 L458.00,159.04 L458.50,159.30 L459.00,159.47 L459.50,159.53 L460.00,159.48 L460.50,159.33 L461.00,159.07 L461.50,158.71 L462.00,158.24 L462.50,157.68 L463.00,157.02 L463.50,156.27 L464.00,155.44 L464.50,154.53 L465.00,153.56 L465.50,152.53 L466.00,151.44 L466.50,150.31 L467.00,149.16 L467.50,147.98 L468.00,146.79 L468.50,145.61 L469.00,144.43 L469.50,143.27 L470.00,142.15 L470.50,141.07 L471.00,140.04 L471.50,139.07 L472.00,138.16 L472.50,137.34 L473.00,136.60 L473.50,135.94 L474.00,135.39 L474.50,134.93 L475.00,134.57 L475.50,134.33 L476.00,134.19 L476.50,134.15 L477.00,134.23 L477.50,134.41 L478.00,134.69 L478.50,135.08 L479.00,135.55 L479.50,136.12 L480.00,136.77 L480.50,137.50 L481.00,138.30 L481.50,139.15 L482.00,140.06 L482.50,141.01 L483.00,141.99 L483.50,142.99 L484.00,144.00 L484.50,145.01 L485.00,146.01 L485.50,146.98 L486.00,147.93 L486.50,148.84 L487.00,149.69 L487.50,150.49 L488.00,151.22 L488.50,151.87 L489.00,152.44 L489.50,152.91 L490.00,153.30 L490.50,153.59 L491.00,153.77 L491.50,153.85 L492.00,153.82 L492.50,153.69 L493.00,153.45 L493.50,153.10 L494.00,152.65 L494.50,152.11 L495.00,151.47 L495.50,150.75 L496.00,149.94 L496.50,149.06 L497.00,148.11 L497.50,147.10 L498.00,146.05 L498.50,144.95 L499.00,143.83 L499.50,142.69 L500.00,141.54 L500.50,140.39 L501.00,139.25 L501.50,138.14 L502.00,137.06 L502.50,136.03 L503.00,135.04 L503.50,134.12 L504.00,133.27 L504.50,132.49 L505.00,131.80 L505.50,131.20 L506.00,130.70 L506.50,130.29 L507.00,129.99 L507.50,129.80 L508.00,129.71 L508.50,129.73 L509.00,129.85 L509.50,130.08 L510.00,130.42 L510.50,130.85 L511.00,131.37 L511.50,131.99 L512.00,132.68 L512.50,133.45 L513.00,134.29 L513.50,135.18 L514.00,136.12 L514.50,137.10 L515.00,138.11 L515.50,139.14 L516.00,140.18 L516.50,141.21 L517.00,142.24 L517.50,143.23 L518.00,144.20 L518.50,145.12 L519.00,145.99 L519.50,146.80 L520.00,147.53 L520.50,148.19 L521.00,148.77 L521.50,149.26 L522.00,149.65 L522.50,149.94 L523.00,150.13 L523.50,150.21 L524.00,150.18 L524.50,150.05 L525.00,149.82 L525.50,149.48 L526.00,149.04 L526.50,148.50 L527.00,147.87 L527.50,147.15 L528.00,146.35 L528.50,145.48 L529.00,144.55 L529.50,143.55 L530.00,142.52 L530.50,141.44 L531.00,140.34 L531.50,139.22 L532.00,138.09 L532.50,136.97 L533.00,135.86 L533.50,134.78 L534.00,133.73 L534.50,132.73 L535.00,131.78 L535.50,130.89 L536.00,130.08 L536.50,129.34 L537.00,128.69 L537.50,128.13 L538.00,127.66 L538.50,127.30 L539.00,127.04 L539.50,126.89 L540.00,126.84 L540.50,126.90 L541.00,127.07 L541.50,127.34 L542.00,127.71 L542.50,128.18 L543.00,128.74 L543.50,129.39 L544.00,130.12 L544.50,130.92 L545.00,131.79 L545.50,132.71 L546.00,133.67 L546.50,134.68 L547.00,135.71 L547.50,136.76 L548.00,137.81 L548.50,138.86 L549.00,139.89 L549.50,140.90 L550.00,141.87 L550.50,142.80 L551.00,143.68 L551.50,144.49 L552.00,145.22 L552.50,145.88 L553.00,146.46 L553.50,146.94 L554.00,147.33 L554.50,147.62 L555.00,147.80 L555.50,147.88 L556.00,147.85 L556.50,147.71 L557.00,147.47 L557.50,147.13 L558.00,146.68 L558.50,146.14 L559.00,145.51 L559.50,144.79 L560.00,143.99 L560.50,143.13 L561.00,142.19 L561.50,141.21 L562.00,140.18 L562.50,139.11 L563.00,138.02 L563.50,136.91 L564.00,135.80 L564.50,134.70 L565.00,133.61 L565.50,132.55 L566.00,131.52 L566.50,130.55 L567.00,129.62 L567.50,128.76 L568.00,127.98 L568.50,127.27 L569.00,126.65 L569.50,126.13 L570.00,125.70 L570.50,125.37 L571.00,125.14 L571.50,125.02 L572.00,125.01 L572.50,125.10 L573.00,125.31 L573.50,125.61 L574.00,126.01 L574.50,126.51 L575.00,127.10 L575.50,127.78 L576.00,128.53 L576.50,129.36 L577.00,130.25 L577.50,131.19 L578.00,132.18 L578.50,133.20 L579.00,134.24 L579.50,135.30 L580.00,136.37 L580.50,137.43 L581.00,138.47 L581.50,139.48 L582.00,140.45 L582.50,141.38 L583.00,142.25 L583.50,143.06 L584.00,143.79 L584.50,144.45 L585.00,145.01 L585.50,145.49 L586.00,145.87 L586.50,146.14 L587.00,146.31 L587.50,146.38 L588.00,146.34 L588.50,146.20 L589.00,145.94 L589.50,145.59 L590.00,145.14 L590.50,144.59 L591.00,143.95 L591.50,143.22 L592.00,142.42 L592.50,141.55 L593.00,140.62 L593.50,139.63 L594.00,138.61 L594.50,137.54 L595.00,136.46 L595.50,135.36 L596.00,134.26 L596.50,133.17 L597.00,132.09 L597.50,131.05 L598.00,130.04 L598.50,129.08 L599.00,128.18 L599.50,127.35 L600.00,126.59 L600.50,125.91 L601.00,125.31 L601.50,124.81 L602.00,124.41 L602.50,124.11 L603.00,123.92 L603.50,123.83 L604.00,123.84 L604.50,123.97 L605.00,124.20 L605.50,124.53 L606.00,124.96 L606.50,125.49 L607.00,126.10 L607.50,126.80 L608.00,127.58 L608.50,128.43 L609.00,129.33 L609.50,130.29 L610.00,131.29 L610.50,132.33 L611.00,133.38 L611.50,134.45 L612.00,135.52 L612.50,136.58 L613.00,137.62 L613.50,138.64 L614.00,139.61 L614.50,140.53 L615.00,141.40 L615.50,142.20 L616.00,142.92 L616.50,143.57 L617.00,144.12 L617.50,144.59 L618.00,144.95 L618.50,145.21 L619.00,145.37 L619.50,145.42 L620.00,145.37 L620.50,145.21 L621.00,144.94 L621.50,144.57 L622.00,144.11 L622.50,143.55 L623.00,142.90 L623.50,142.16 L624.00,141.35 L624.50,140.48 L625.00,139.54 L625.50,138.55 L626.00,137.52 L626.50,136.46 L627.00,135.38 L627.50,134.29 L628.00,133.19 L628.50,132.11 L629.00,131.05 L629.50,130.01 L630.00,129.02 L630.50,128.08 L631.00,127.20 L631.50,126.38 L632.00,125.64 L632.50,124.99 L633.00,124.42 L633.50,123.94 L634.00,123.57 L634.50,123.29 L635.00,123.13 L635.50,123.06 L636.00,123.11 L636.50,123.26 L637.00,123.51 L637.50,123.87 L638.00,124.32 L638.50,124.87 L639.00,125.51 L639.50,126.23 L640.00,127.03 L640.50,127.89 L641.00,128.81 L641.50,129.79 L642.00,130.80 L642.50,131.84 L643.00,132.91 L643.50,133.98 L644.00,135.05 L644.50,136.12 L645.00,137.16 L645.50,138.17 L646.00,139.14 L646.50,140.05 L647.00,140.91 L647.50,141.70 L648.00,142.41 L648.50,143.05 L649.00,143.59 L649.50,144.03 L650.00,144.38 L650.50,144.63 L651.00,144.77 L651.50,144.80 L652.00,144.73 L652.50,144.55 L653.00,144.27 L653.50,143.89 L654.00,143.41 L654.50,142.83 L655.00,142.17 L655.50,141.42 L656.00,140.61 L656.50,139.72 L657.00,138.78 L657.50,137.78 L658.00,136.75 L658.50,135.69 L659.00,134.61 L659.50,133.52 L660.00,132.43 L660.50,131.36 L661.00,130.30 L661.50,129.28 L662.00,128.30 L662.50,127.38 L663.00,126.51 L663.50,125.71 L664.00,124.99 L664.50,124.36 L665.00,123.81 L665.50,123.36 L666.00,123.01 L666.50,122.76 L667.00,122.61 L667.50,122.58 L668.00,122.64 L668.50,122.82 L669.00,123.10 L669.50,123.48 L670.00,123.96 L670.50,124.53 L671.00,125.18 L671.50,125.92 L672.00,126.74 L672.50,127.62 L673.00,128.55 L673.50,129.54 L674.00,130.56 L674.50,131.61 L675.00,132.68 L675.50,133.76 L676.00,134.83 L676.50,135.89 L677.00,136.93 L677.50,137.94 L678.00,138.90 L678.50,139.81 L679.00,140.66 L679.50,141.43 L680.00,142.13 L680.50,142.75 L681.00,143.28 L681.50,143.71 L682.00,144.04 L682.50,144.26 L683.00,144.39 L683.50,144.40 L684.00,144.31 L684.50,144.12 L685.00,143.82 L685.50,143.42 L686.00,142.92 L686.50,142.33 L687.00,141.65 L687.50,140.89 L688.00,140.06 L688.50,139.17 L689.00,138.22 L689.50,137.22 L690.00,136.18 L690.50,135.12 L691.00,134.04 L691.50,132.95 L692.00,131.87 L692.50,130.80 L693.00,129.75 L693.50,128.74 L694.00,127.78 L694.50,126.86 L695.00,126.01 L695.50,125.23 L696.00,124.53 L696.50,123.92 L697.00,123.39 L697.50,122.96 L698.00,122.63 L698.50,122.40 L699.00,122.28 L699.50,122.27 L700.00,122.36 L700.50,122.56 L701.00,122.86 L701.50,123.26 L702.00,123.76 L702.50,124.35 L703.00,125.03 L703.50,125.79 L704.00,126.61 L704.50,127.51 L705.00,128.45 L705.50,129.45 L706.00,130.48 L706.50,131.54 L707.00,132.61 L707.50,133.69 L708.00,134.77 L708.50,135.83 L709.00,136.86 L709.50,137.86 L710.00,138.81 L710.50,139.71 L711.00,140.55 L711.50,141.31 L712.00,142.00 L712.50,142.60 L713.00,143.11 L713.50,143.52 L714.00,143.83 L714.50,144.04 L715.00,144.14 L715.50,144.14 L716.00,144.03 L716.50,143.82 L717.00,143.50 L717.50,143.08 L718.00,142.56 L718.50,141.96 L719.00,141.27 L719.50,140.49 L720.00,139.65 L720.50,138.75 L721.00,137.79 L721.50,136.78 L722.00,135.74 L722.50,134.68 L723.00,133.59 L723.50,132.51 L724.00,131.43 L724.50,130.36 L725.00,129.33 L725.50,128.33 L726.00,127.37 L726.50,126.47 L727.00,125.64 L727.50,124.87 L728.00,124.19 L728.50,123.59 L729.00,123.09 L729.50,122.68 L730.00,122.37 L730.50,122.17 L731.00,122.07 L731.50,122.08 L732.00,122.19 L732.50,122.41 L733.00,122.74 L733.50,123.16 L734.00,123.68 L734.50,124.29 L735.00,124.98 L735.50,125.76 L736.00,126.60 L736.50,127.50 L737.00,128.46 L737.50,129.47 L738.00,130.51 L738.50,131.57 L739.00,132.65 L739.50,133.73 L740.00,134.80 L740.50,135.86 L741.00,136.89 L741.50,137.88 L742.00,138.82 L742.50,139.71 L743.00,140.53 L743.50,141.28 L744.00,141.96 L744.50,142.54 L745.00,143.03 L745.50,143.42 L746.00,143.72 L746.50,143.91 L747.00,143.99 L747.50,143.96 L748.00,143.84 L748.50,143.60 L749.00,143.26 L749.50,142.83 L750.00,142.29 L750.50,141.67 L751.00,140.96 L751.50,140.18 L752.00,139.32 L752.50,138.41 L753.00,137.44 L753.50,136.43 L754.00,135.38 L754.50,134.31 L755.00,133.23 L755.50,132.15 L756.00,131.07 L756.50,130.01 L757.00,128.98 L757.50,127.99 L758.00,127.05 L758.50,126.16 L759.00,125.34 L759.50,124.60 L760.00,123.93 L760.50,123.35 L761.00,122.87 L761.50,122.48 L762.00,122.19 L762.50,122.01 L763.00,121.93 L763.50,121.96 L764.00,122.10 L764.50,122.34 L765.00,122.69 L765.50,123.13 L766.00,123.67 L766.50,124.30 L767.00,125.01 L767.50,125.80 L768.00,126.65 L768.50,127.57 L769.00,128.54 L769.50,129.55 L770.00,130.60 L770.50,131.67 L771.00,132.75 L771.50,133.83 L772.00,134.90 L772.50,135.95 L773.00,136.98 L773.50,137.96 L774.00,138.89 L774.50,139.77 L775.00,140.58 L775.50,141.32 L776.00,141.97 L776.50,142.54 L777.00,143.01 L777.50,143.38 L778.00,143.66 L778.50,143.82 L779.00,143.89 L779.50,143.84 L780.00,143.69 L780.50,143.44 L781.00,143.08 L781.50,142.63 L782.00,142.07 L782.50,141.44 L783.00,140.71 L783.50,139.91 L784.00,139.05 L784.50,138.12 L785.00,137.14 L785.50,136.13 L786.00,135.08 L786.50,134.00 L787.00,132.92 L787.50,131.84 L788.00,130.77 L788.50,129.71 L789.00,128.69 L789.50,127.71 L790.00,126.78 L790.50,125.90 L791.00,125.10 L791.50,124.37 L792.00,123.72 L792.50,123.16 L793.00,122.70 L793.50,122.33 L794.00,122.06 L794.50,121.90 L795.00,121.85 L795.50,121.90 L796.00,122.06 L796.50,122.32 L797.00,122.69 L797.50,123.15 L798.00,123.71 L798.50,124.35 L799.00,125.08 L799.50,125.89 L800.00,126.76 L800.50,127.69 L801.00,128.67 L801.50,129.69 L802.00,130.74 L802.50,131.81 L803.00,132.89 L803.50,133.97 L804.00,135.04 L804.50,136.09 L805.00,137.10 L805.50,138.08 L806.00,139.00 L806.50,139.87 L807.00,140.66 L807.50,141.38 L808.00,142.02 L808.50,142.57 L809.00,143.02 L809.50,143.38 L810.00,143.63 L810.50,143.78 L811.00,143.82 L811.50,143.76 L812.00,143.58 L812.50,143.31 L813.00,142.93 L813.50,142.46 L814.00,141.89 L814.50,141.23 L815.00,140.50 L815.50,139.68 L816.00,138.80 L816.50,137.87 L817.00,136.88 L817.50,135.86 L818.00,134.80 L818.50,133.73 L819.00,132.64 L819.50,131.56 L820.00,130.49 L820.50,129.45 L821.00,128.43 L821.50,127.46 L822.00,126.54 L822.50,125.68 L823.00,124.89 L823.50,124.18 L824.00,123.55 L824.50,123.01 L825.00,122.56 L825.50,122.21 L826.00,121.97 L826.50,121.83 L827.00,121.80 L827.50,121.87 L828.00,122.05 L828.50,122.34 L829.00,122.72 L829.50,123.20 L830.00,123.78 L830.50,124.44 L831.00,125.19 L831.50,126.00 L832.00,126.89 L832.50,127.83 L833.00,128.82 L833.50,129.84 L834.00,130.90 L834.50,131.97 L835.00,133.06 L835.50,134.14 L836.00,135.20 L836.50,136.25 L837.00,137.25 L837.50,138.22 L838.00,139.13 L838.50,139.99 L839.00,140.77 L839.50,141.47 L840.00,142.09 L840.50,142.62 L841.00,143.06 L841.50,143.39 L842.00,143.62 L842.50,143.75 L843.00,143.77 L843.50,143.69 L844.00,143.50 L844.50,143.20 L845.00,142.80 L845.50,142.31 L846.00,141.72 L846.50,141.05 L847.00,140.30 L847.50,139.47 L848.00,138.58 L848.50,137.63 L849.00,136.64 L849.50,135.61 L850.00,134.55 L850.50,133.47 L851.00,132.39 L851.50,131.31 L852.00,130.24 L852.50,129.20 L853.00,128.20 L853.50,127.23 L854.00,126.33 L854.50,125.48 L855.00,124.70 L855.50,124.01 L856.00,123.39 L856.50,122.87 L857.00,122.45 L857.50,122.12 L858.00,121.90 L858.50,121.78 L859.00,121.77 L859.50,121.87 L860.00,122.07 L860.50,122.37 L861.00,122.78 L861.50,123.28 L862.00,123.87 L862.50,124.55 L863.00,125.31 L863.50,126.14 L864.00,127.04 L864.50,127.99 L865.00,128.99 L865.50,130.02 L866.00,131.08 L866.50,132.16 L867.00,133.24 L867.50,134.32 L868.00,135.38 L868.50,136.42 L869.00,137.42 L869.50,138.38 L870.00,139.28 L870.50,140.12 L871.00,140.89 L871.50,141.57 L872.00,142.18 L872.50,142.69 L873.00,143.10 L873.50,143.42 L874.00,143.63 L874.50,143.74 L875.00,143.74 L875.50,143.63 L876.00,143.42 L876.50,143.10 L877.00,142.69 L877.50,142.17 L878.00,141.57 L878.50,140.88 L879.00,140.11 L879.50,139.27 L880.00,138.37 L880.50,137.41 L881.00,136.41 L881.50,135.37 L882.00,134.31 L882.50,133.23 L883.00,132.15 L883.50,131.07 L884.00,130.01 L884.50,128.98 L885.00,127.98 L885.50,127.02 L886.00,126.13 L886.50,125.30 L887.00,124.54 L887.50,123.85 L888.00,123.26 L888.50,122.76 L889.00,122.35 L889.50,122.05 L890.00,121.84 L890.50,121.75 L891.00,121.76 L891.50,121.88 L892.00,122.10 L892.50,122.42 L893.00,122.85 L893.50,123.37 L894.00,123.98 L894.50,124.68 L895.00,125.45 L895.50,126.30 L896.00,127.21 L896.50,128.17 L897.00,129.17 L897.50,130.21 L898.00,131.28 L898.50,132.36 L899.00,133.44 L899.50,134.51 L900.00,135.57 L900.50,136.60 L901.00,137.60 L901.50,138.54 L902.00,139.43 L902.50,140.26 L903.00,141.01 L903.50,141.68 L904.00,142.27" fill="none" stroke="#d2111c" stroke-width="3.6" stroke-linejoin="round"/></g>
<g clip-path="url(#c1)"><path d="M124.00,313.53 L124.50,315.02 L125.00,316.59 L125.50,318.24 L126.00,319.98 L126.50,321.78 L127.00,323.67 L127.50,325.63 L128.00,327.66 L128.50,329.76 L129.00,331.92 L129.50,334.15 L130.00,336.44 L130.50,338.80 L131.00,341.21 L131.50,343.67 L132.00,346.19 L132.50,348.75 L133.00,351.36 L133.50,354.02 L134.00,356.71 L134.50,359.45 L135.00,362.22 L135.50,365.02 L136.00,367.85 L136.50,370.71 L137.00,373.58 L137.50,376.48 L138.00,379.40 L138.50,382.33 L139.00,385.27 L139.50,388.21 L140.00,391.16 L140.50,394.11 L141.00,397.06 L141.50,400.00 L142.00,402.94 L142.50,405.86 L143.00,408.77 L143.50,411.66 L144.00,414.53 L144.50,417.37 L145.00,420.19 L145.50,422.97 L146.00,425.72 L146.50,428.44 L147.00,431.11 L147.50,433.75 L148.00,436.34 L148.50,438.88 L149.00,441.37 L149.50,443.81 L150.00,446.19 L150.50,448.51 L151.00,450.77 L151.50,452.97 L152.00,455.10 L152.50,457.17 L153.00,459.16 L153.50,461.08 L154.00,462.93 L154.50,464.70 L155.00,466.39 L155.50,468.00 L156.00,469.53 L156.50,470.98 L157.00,472.34 L157.50,473.61 L158.00,474.80 L158.50,475.90 L159.00,476.90 L159.50,477.82 L160.00,478.64 L160.50,479.37 L161.00,480.00 L161.50,480.54 L162.00,480.99 L162.50,481.33 L163.00,481.59 L163.50,481.74 L164.00,481.80 L164.50,481.76 L165.00,481.63 L165.50,481.39 L166.00,481.06 L166.50,480.64 L167.00,480.12 L167.50,479.50 L168.00,478.79 L168.50,477.99 L169.00,477.09 L169.50,476.11 L170.00,475.03 L170.50,473.86 L171.00,472.60 L171.50,471.26 L172.00,469.83 L172.50,468.32 L173.00,466.72 L173.50,465.04 L174.00,463.29 L174.50,461.46 L175.00,459.55 L175.50,457.57 L176.00,455.52 L176.50,453.40 L177.00,451.22 L177.50,448.97 L178.00,446.66 L178.50,444.29 L179.00,441.86 L179.50,439.38 L180.00,436.85 L180.50,434.27 L181.00,431.65 L181.50,428.98 L182.00,426.27 L182.50,423.52 L183.00,420.75 L183.50,417.93 L184.00,415.10 L184.50,412.23 L185.00,409.35 L185.50,406.44 L186.00,403.52 L186.50,400.59 L187.00,397.65 L187.50,394.70 L188.00,391.75 L188.50,388.80 L189.00,385.85 L189.50,382.91 L190.00,379.98 L190.50,377.06 L191.00,374.16 L191.50,371.28 L192.00,368.42 L192.50,365.58 L193.00,362.78 L193.50,360.00 L194.00,357.26 L194.50,354.55 L195.00,351.89 L195.50,349.27 L196.00,346.69 L196.50,344.17 L197.00,341.69 L197.50,339.27 L198.00,336.91 L198.50,334.60 L199.00,332.36 L199.50,330.18 L200.00,328.07 L200.50,326.03 L201.00,324.05 L201.50,322.16 L202.00,320.33 L202.50,318.58 L203.00,316.92 L203.50,315.33 L204.00,313.82 L204.50,312.40 L205.00,311.07 L205.50,309.82 L206.00,308.66 L206.50,307.59 L207.00,306.61 L207.50,305.73 L208.00,304.93 L208.50,304.23 L209.00,303.62 L209.50,303.11 L210.00,302.70 L210.50,302.38 L211.00,302.16 L211.50,302.03 L212.00,302.00 L212.50,302.07 L213.00,302.23 L213.50,302.50 L214.00,302.85 L214.50,303.31 L215.00,303.86 L215.50,304.50 L216.00,305.24 L216.50,306.07 L217.00,306.99 L217.50,308.01 L218.00,309.11 L218.50,310.31 L219.00,311.59 L219.50,312.96 L220.00,314.42 L220.50,315.95 L221.00,317.57 L221.50,319.27 L222.00,321.05 L222.50,322.91 L223.00,324.84 L223.50,326.84 L224.00,328.91 L224.50,331.05 L225.00,333.25 L225.50,335.52 L226.00,337.85 L226.50,340.23 L227.00,342.68 L227.50,345.17 L228.00,347.72 L228.50,350.31 L229.00,352.95 L229.50,355.63 L230.00,358.35 L230.50,361.11 L231.00,363.89 L231.50,366.71 L232.00,369.56 L232.50,372.43 L233.00,375.32 L233.50,378.23 L234.00,381.15 L234.50,384.09 L235.00,387.03 L235.50,389.98 L236.00,392.93 L236.50,395.88 L237.00,398.83 L237.50,401.77 L238.00,404.69 L238.50,407.61 L239.00,410.50 L239.50,413.38 L240.00,416.24 L240.50,419.06 L241.00,421.86 L241.50,424.63 L242.00,427.36 L242.50,430.05 L243.00,432.70 L243.50,435.31 L244.00,437.87 L244.50,440.38 L245.00,442.84 L245.50,445.24 L246.00,447.59 L246.50,449.87 L247.00,452.10 L247.50,454.26 L248.00,456.35 L248.50,458.37 L249.00,460.32 L249.50,462.20 L250.00,464.00 L250.50,465.72 L251.00,467.37 L251.50,468.93 L252.00,470.41 L252.50,471.81 L253.00,473.12 L253.50,474.34 L254.00,475.47 L254.50,476.51 L255.00,477.46 L255.50,478.32 L256.00,479.09 L256.50,479.76 L257.00,480.34 L257.50,480.82 L258.00,481.21 L258.50,481.50 L259.00,481.69 L259.50,481.79 L260.00,481.79 L260.50,481.69 L261.00,481.50 L261.50,481.21 L262.00,480.82 L262.50,480.34 L263.00,479.76 L263.50,479.09 L264.00,478.32 L264.50,477.46 L265.00,476.51 L265.50,475.47 L266.00,474.34 L266.50,473.12 L267.00,471.81 L267.50,470.41 L268.00,468.93 L268.50,467.37 L269.00,465.72 L269.50,464.00 L270.00,462.20 L270.50,460.32 L271.00,458.37 L271.50,456.35 L272.00,454.26 L272.50,452.10 L273.00,449.87 L273.50,447.59 L274.00,445.24 L274.50,442.84 L275.00,440.38 L275.50,437.87 L276.00,435.31 L276.50,432.70 L277.00,430.05 L277.50,427.36 L278.00,424.63 L278.50,421.86 L279.00,419.06 L279.50,416.24 L280.00,413.38 L280.50,410.50 L281.00,407.61 L281.50,404.69 L282.00,401.77 L282.50,398.83 L283.00,395.88 L283.50,392.93 L284.00,389.98 L284.50,387.03 L285.00,384.09 L285.50,381.15 L286.00,378.23 L286.50,375.32 L287.00,372.43 L287.50,369.56 L288.00,366.71 L288.50,363.89 L289.00,361.11 L289.50,358.35 L290.00,355.63 L290.50,352.95 L291.00,350.31 L291.50,347.72 L292.00,345.17 L292.50,342.68 L293.00,340.23 L293.50,337.85 L294.00,335.52 L294.50,333.25 L295.00,331.05 L295.50,328.91 L296.00,326.84 L296.50,324.84 L297.00,322.91 L297.50,321.05 L298.00,319.27 L298.50,317.57 L299.00,315.95 L299.50,314.42 L300.00,312.96 L300.50,311.59 L301.00,310.31 L301.50,309.11 L302.00,308.01 L302.50,306.99 L303.00,306.07 L303.50,305.24 L304.00,304.50 L304.50,303.86 L305.00,303.31 L305.50,302.85 L306.00,302.50 L306.50,302.23 L307.00,302.07 L307.50,302.00 L308.00,302.03 L308.50,302.16 L309.00,302.38 L309.50,302.70 L310.00,303.11 L310.50,303.62 L311.00,304.23 L311.50,304.93 L312.00,305.73 L312.50,306.61 L313.00,307.59 L313.50,308.66 L314.00,309.82 L314.50,311.07 L315.00,312.40 L315.50,313.82 L316.00,315.33 L316.50,316.92 L317.00,318.58 L317.50,320.33 L318.00,322.16 L318.50,324.05 L319.00,326.03 L319.50,328.07 L320.00,330.18 L320.50,332.36 L321.00,334.60 L321.50,336.91 L322.00,339.27 L322.50,341.69 L323.00,344.17 L323.50,346.69 L324.00,349.27 L324.50,351.89 L325.00,354.55 L325.50,357.26 L326.00,360.00 L326.50,362.78 L327.00,365.58 L327.50,368.42 L328.00,371.28 L328.50,374.16 L329.00,377.06 L329.50,379.98 L330.00,382.91 L330.50,385.85 L331.00,388.80 L331.50,391.75 L332.00,394.70 L332.50,397.65 L333.00,400.59 L333.50,403.52 L334.00,406.44 L334.50,409.35 L335.00,412.23 L335.50,415.10 L336.00,417.93 L336.50,420.75 L337.00,423.52 L337.50,426.27 L338.00,428.98 L338.50,431.65 L339.00,434.27 L339.50,436.85 L340.00,439.38 L340.50,441.86 L341.00,444.29 L341.50,446.66 L342.00,448.97 L342.50,451.22 L343.00,453.40 L343.50,455.52 L344.00,457.57 L344.50,459.55 L345.00,461.46 L345.50,463.29 L346.00,465.04 L346.50,466.72 L347.00,468.32 L347.50,469.83 L348.00,471.26 L348.50,472.60 L349.00,473.86 L349.50,475.03 L350.00,476.11 L350.50,477.09 L351.00,477.99 L351.50,478.79 L352.00,479.50 L352.50,480.12 L353.00,480.64 L353.50,481.06 L354.00,481.39 L354.50,481.63 L355.00,481.76 L355.50,481.80 L356.00,481.74 L356.50,481.59 L357.00,481.33 L357.50,480.99 L358.00,480.54 L358.50,480.00 L359.00,479.37 L359.50,478.64 L360.00,477.82 L360.50,476.90 L361.00,475.90 L361.50,474.80 L362.00,473.61 L362.50,472.34 L363.00,470.98 L363.50,469.53 L364.00,468.00 L364.50,466.39 L365.00,464.70 L365.50,462.93 L366.00,461.08 L366.50,459.16 L367.00,457.17 L367.50,455.10 L368.00,452.97 L368.50,450.77 L369.00,448.51 L369.50,446.19 L370.00,443.81 L370.50,441.37 L371.00,438.88 L371.50,436.34 L372.00,433.75 L372.50,431.11 L373.00,428.44 L373.50,425.72 L374.00,422.97 L374.50,420.19 L375.00,417.37 L375.50,414.53 L376.00,411.66 L376.50,408.77 L377.00,405.86 L377.50,402.94 L378.00,400.00 L378.50,397.13 L379.00,394.25 L379.50,391.37 L380.00,388.48 L380.50,385.59 L381.00,382.71 L381.50,379.84 L382.00,376.97 L382.50,374.12 L383.00,371.29 L383.50,368.48 L384.00,365.70 L384.50,362.94 L385.00,360.21 L385.50,357.51 L386.00,354.85 L386.50,352.23 L387.00,349.65 L387.50,347.11 L388.00,344.63 L388.50,342.19 L389.00,339.81 L389.50,337.48 L390.00,335.21 L390.50,333.01 L391.00,330.86 L391.50,328.79 L392.00,326.78 L392.50,324.84 L393.00,322.97 L393.50,321.18 L394.00,319.47 L394.50,317.83 L395.00,316.28 L395.50,314.81 L396.00,313.42 L396.50,312.12 L397.00,310.90 L397.50,309.78 L398.00,308.74 L398.50,307.80 L399.00,306.95 L399.50,306.19 L400.00,305.52 L400.50,304.95 L401.00,304.48 L401.50,304.10 L402.00,303.82 L402.50,303.64 L403.00,303.55 L403.50,303.56 L404.00,303.67 L404.50,303.87 L405.00,304.18 L405.50,304.58 L406.00,305.08 L406.50,305.67 L407.00,306.36 L407.50,307.14 L408.00,308.02 L408.50,309.00 L409.00,310.06 L409.50,311.22 L410.00,312.46 L410.50,313.80 L411.00,315.22 L411.50,316.73 L412.00,318.32 L412.50,319.99 L413.00,321.75 L413.50,323.58 L414.00,325.50 L414.50,327.48 L415.00,329.54 L415.50,331.67 L416.00,333.87 L416.50,336.14 L417.00,338.47 L417.50,340.86 L418.00,343.30 L418.50,345.81 L419.00,348.37 L419.50,350.98 L420.00,353.64 L420.50,356.34 L421.00,359.08 L421.50,361.87 L422.00,364.69 L422.50,367.54 L423.00,370.42 L423.50,373.33 L424.00,376.27 L424.50,379.23 L425.00,382.20 L425.50,385.19 L426.00,388.19 L426.50,391.19 L427.00,394.21 L427.50,397.22 L428.00,400.23 L428.50,403.24 L429.00,406.24 L429.50,409.23 L430.00,412.20 L430.50,415.16 L431.00,418.09 L431.50,421.00 L432.00,423.89 L432.50,426.74 L433.00,429.56 L433.50,432.34 L434.00,435.09 L434.50,437.79 L435.00,440.45 L435.50,443.06 L436.00,445.62 L436.50,448.12 L437.00,450.57 L437.50,452.96 L438.00,455.29 L438.50,457.55 L439.00,459.75 L439.50,461.88 L440.00,463.93 L440.50,465.92 L441.00,467.83 L441.50,469.66 L442.00,471.41 L442.50,473.08 L443.00,474.67 L443.50,476.17 L444.00,477.59 L444.50,478.92 L445.00,480.16 L445.50,481.30 L446.00,482.36 L446.50,483.32 L447.00,484.19 L447.50,484.97 L448.00,485.64 L448.50,486.22 L449.00,486.71 L449.50,487.09 L450.00,487.38 L450.50,487.57 L451.00,487.66 L451.50,487.66 L452.00,487.55 L452.50,487.34 L453.00,487.04 L453.50,486.64 L454.00,486.14 L454.50,485.54 L455.00,484.85 L455.50,484.06 L456.00,483.18 L456.50,482.20 L457.00,481.13 L457.50,479.97 L458.00,478.71 L458.50,477.37 L459.00,475.94 L459.50,474.43 L460.00,472.83 L460.50,471.15 L461.00,469.38 L461.50,467.54 L462.00,465.62 L462.50,463.63 L463.00,461.56 L463.50,459.42 L464.00,457.22 L464.50,454.95 L465.00,452.61 L465.50,450.22 L466.00,447.76 L466.50,445.25 L467.00,442.69 L467.50,440.08 L468.00,437.42 L468.50,434.71 L469.00,431.97 L469.50,429.18 L470.00,426.36 L470.50,423.51 L471.00,420.63 L471.50,417.72 L472.00,414.79 L472.50,411.84 L473.00,408.87 L473.50,405.89 L474.00,402.90 L474.50,399.90 L475.00,396.90 L475.50,393.89 L476.00,390.89 L476.50,387.90 L477.00,384.91 L477.50,381.94 L478.00,378.98 L478.50,376.04 L479.00,373.12 L479.50,370.23 L480.00,367.37 L480.50,364.53 L481.00,361.73 L481.50,358.97 L482.00,356.25 L482.50,353.57 L483.00,350.94 L483.50,348.36 L484.00,345.83 L484.50,343.35 L485.00,340.93 L485.50,338.57 L486.00,336.27 L486.50,334.04 L487.00,331.88 L487.50,329.78 L488.00,327.76 L488.50,325.81 L489.00,323.93 L489.50,322.14 L490.00,320.42 L490.50,318.79 L491.00,317.24 L491.50,315.77 L492.00,314.40 L492.50,313.11 L493.00,311.91 L493.50,310.80 L494.00,309.79 L494.50,308.86 L495.00,308.04 L495.50,307.31 L496.00,306.67 L496.50,306.13 L497.00,305.69 L497.50,305.35 L498.00,305.10 L498.50,304.95 L499.00,304.91 L499.50,304.96 L500.00,305.11 L500.50,305.35 L501.00,305.70 L501.50,306.14 L502.00,306.69 L502.50,307.32 L503.00,308.06 L503.50,308.89 L504.00,309.81 L504.50,310.83 L505.00,311.94 L505.50,313.15 L506.00,314.44 L506.50,315.82 L507.00,317.29 L507.50,318.84 L508.00,320.48 L508.50,322.20 L509.00,323.99 L509.50,325.87 L510.00,327.83 L510.50,329.85 L511.00,331.95 L511.50,334.12 L512.00,336.36 L512.50,338.66 L513.00,341.03 L513.50,343.45 L514.00,345.93 L514.50,348.47 L515.00,351.06 L515.50,353.70 L516.00,356.38 L516.50,359.11 L517.00,361.87 L517.50,364.68 L518.00,367.52 L518.50,370.39 L519.00,373.29 L519.50,376.21 L520.00,379.16 L520.50,382.13 L521.00,385.11 L521.50,388.10 L522.00,391.10 L522.50,394.11 L523.00,397.12 L523.50,400.14 L524.00,403.14 L524.50,406.14 L525.00,409.13 L525.50,412.11 L526.00,415.07 L526.50,418.01 L527.00,420.93 L527.50,423.82 L528.00,426.68 L528.50,429.51 L529.00,432.31 L529.50,435.06 L530.00,437.78 L530.50,440.45 L531.00,443.07 L531.50,445.65 L532.00,448.17 L532.50,450.63 L533.00,453.04 L533.50,455.39 L534.00,457.67 L534.50,459.89 L535.00,462.03 L535.50,464.11 L536.00,466.12 L536.50,468.05 L537.00,469.91 L537.50,471.68 L538.00,473.38 L538.50,474.99 L539.00,476.52 L539.50,477.96 L540.00,479.31 L540.50,480.58 L541.00,481.75 L541.50,482.84 L542.00,483.83 L542.50,484.72 L543.00,485.52 L543.50,486.23 L544.00,486.84 L544.50,487.35 L545.00,487.77 L545.50,488.08 L546.00,488.30 L546.50,488.42 L547.00,488.44 L547.50,488.36 L548.00,488.19 L548.50,487.91 L549.00,487.54 L549.50,487.07 L550.00,486.50 L550.50,485.83 L551.00,485.07 L551.50,484.21 L552.00,483.26 L552.50,482.21 L553.00,481.08 L553.50,479.85 L554.00,478.53 L554.50,477.13 L555.00,475.63 L555.50,474.06 L556.00,472.40 L556.50,470.65 L557.00,468.83 L557.50,466.93 L558.00,464.96 L558.50,462.91 L559.00,460.79 L559.50,458.60 L560.00,456.34 L560.50,454.02 L561.00,451.64 L561.50,449.20 L562.00,446.70 L562.50,444.15 L563.00,441.55 L563.50,438.90 L564.00,436.20 L564.50,433.46 L565.00,430.68 L565.50,427.87 L566.00,425.02 L566.50,422.14 L567.00,419.23 L567.50,416.30 L568.00,413.35 L568.50,410.38 L569.00,407.40 L569.50,404.40 L570.00,401.40 L570.50,398.39 L571.00,395.38 L571.50,392.37 L572.00,389.36 L572.50,386.36 L573.00,383.38 L573.50,380.41 L574.00,377.45 L574.50,374.52 L575.00,371.61 L575.50,368.73 L576.00,365.87 L576.50,363.06 L577.00,360.27 L577.50,357.53 L578.00,354.83 L578.50,352.17 L579.00,349.56 L579.50,347.01 L580.00,344.50 L580.50,342.06 L581.00,339.67 L581.50,337.34 L582.00,335.08 L582.50,332.88 L583.00,330.75 L583.50,328.70 L584.00,326.71 L584.50,324.81 L585.00,322.98 L585.50,321.23 L586.00,319.56 L586.50,317.97 L587.00,316.47 L587.50,315.05 L588.00,313.73 L588.50,312.49 L589.00,311.34 L589.50,310.29 L590.00,309.33 L590.50,308.46 L591.00,307.69 L591.50,307.01 L592.00,306.43 L592.50,305.95 L593.00,305.56 L593.50,305.28 L594.00,305.09 L594.50,305.00 L595.00,305.01 L595.50,305.12 L596.00,305.33 L596.50,305.63 L597.00,306.04 L597.50,306.54 L598.00,307.14 L598.50,307.84 L599.00,308.63 L599.50,309.51 L600.00,310.49 L600.50,311.57 L601.00,312.73 L601.50,313.99 L602.00,315.33 L602.50,316.77 L603.00,318.28 L603.50,319.89 L604.00,321.57 L604.50,323.34 L605.00,325.19 L605.50,327.11 L606.00,329.11 L606.50,331.18 L607.00,333.32 L607.50,335.53 L608.00,337.81 L608.50,340.15 L609.00,342.55 L609.50,345.01 L610.00,347.52 L610.50,350.09 L611.00,352.71 L611.50,355.37 L612.00,358.08 L612.50,360.84 L613.00,363.63 L613.50,366.45 L614.00,369.31 L614.50,372.20 L615.00,375.11 L615.50,378.05 L616.00,381.01 L616.50,383.99 L617.00,386.97 L617.50,389.97 L618.00,392.98 L618.50,395.99 L619.00,399.00 L619.50,402.01 L620.00,405.02 L620.50,408.01 L621.00,410.99 L621.50,413.96 L622.00,416.91 L622.50,419.84 L623.00,422.74 L623.50,425.61 L624.00,428.46 L624.50,431.26 L625.00,434.04 L625.50,436.77 L626.00,439.46 L626.50,442.10 L627.00,444.69 L627.50,447.23 L628.00,449.72 L628.50,452.15 L629.00,454.52 L629.50,456.83 L630.00,459.07 L630.50,461.25 L631.00,463.36 L631.50,465.39 L632.00,467.35 L632.50,469.24 L633.00,471.04 L633.50,472.77 L634.00,474.42 L634.50,475.98 L635.00,477.45 L635.50,478.84 L636.00,480.14 L636.50,481.35 L637.00,482.47 L637.50,483.50 L638.00,484.43 L638.50,485.27 L639.00,486.02 L639.50,486.66 L640.00,487.21 L640.50,487.67 L641.00,488.02 L641.50,488.28 L642.00,488.44 L642.50,488.50 L643.00,488.46 L643.50,488.32 L644.00,488.08 L644.50,487.75 L645.00,487.31 L645.50,486.78 L646.00,486.15 L646.50,485.43 L647.00,484.61 L647.50,483.69 L648.00,482.69 L648.50,481.58 L649.00,480.39 L649.50,479.11 L650.00,477.74 L650.50,476.28 L651.00,474.74 L651.50,473.11 L652.00,471.40 L652.50,469.61 L653.00,467.74 L653.50,465.79 L654.00,463.77 L654.50,461.68 L655.00,459.52 L655.50,457.29 L656.00,454.99 L656.50,452.63 L657.00,450.21 L657.50,447.74 L658.00,445.21 L658.50,442.62 L659.00,439.99 L659.50,437.31 L660.00,434.59 L660.50,431.82 L661.00,429.02 L661.50,426.19 L662.00,423.32 L662.50,420.42 L663.00,417.50 L663.50,414.56 L664.00,411.59 L664.50,408.61 L665.00,405.62 L665.50,402.62 L666.00,399.61 L666.50,396.60 L667.00,393.59 L667.50,390.58 L668.00,387.58 L668.50,384.59 L669.00,381.61 L669.50,378.65 L670.00,375.70 L670.50,372.78 L671.00,369.89 L671.50,367.03 L672.00,364.19 L672.50,361.39 L673.00,358.63 L673.50,355.92 L674.00,353.24 L674.50,350.61 L675.00,348.04 L675.50,345.51 L676.00,343.04 L676.50,340.63 L677.00,338.27 L677.50,335.99 L678.00,333.76 L678.50,331.61 L679.00,329.52 L679.50,327.51 L680.00,325.57 L680.50,323.71 L681.00,321.92 L681.50,320.22 L682.00,318.60 L682.50,317.07 L683.00,315.62 L683.50,314.25 L684.00,312.98 L684.50,311.80 L685.00,310.71 L685.50,309.71 L686.00,308.80 L686.50,307.99 L687.00,307.28 L687.50,306.66 L688.00,306.14 L688.50,305.71 L689.00,305.39 L689.50,305.16 L690.00,305.03 L690.50,305.00 L691.00,305.07 L691.50,305.24 L692.00,305.51 L692.50,305.87 L693.00,306.33 L693.50,306.89 L694.00,307.55 L694.50,308.30 L695.00,309.15 L695.50,310.10 L696.00,311.13 L696.50,312.26 L697.00,313.48 L697.50,314.79 L698.00,316.19 L698.50,317.67 L699.00,319.24 L699.50,320.89 L700.00,322.63 L700.50,324.44 L701.00,326.34 L701.50,328.30 L702.00,330.35 L702.50,332.46 L703.00,334.64 L703.50,336.89 L704.00,339.21 L704.50,341.59 L705.00,344.02 L705.50,346.51 L706.00,349.06 L706.50,351.66 L707.00,354.31 L707.50,357.00 L708.00,359.73 L708.50,362.51 L709.00,365.32 L709.50,368.17 L710.00,371.05 L710.50,373.95 L711.00,376.88 L711.50,379.83 L712.00,382.80 L712.50,385.78 L713.00,388.78 L713.50,391.78 L714.00,394.79 L714.50,397.80 L715.00,400.81 L715.50,403.82 L716.00,406.82 L716.50,409.81 L717.00,412.78 L717.50,415.74 L718.00,418.67 L718.50,421.59 L719.00,424.47 L719.50,427.33 L720.00,430.15 L720.50,432.94 L721.00,435.68 L721.50,438.39 L722.00,441.05 L722.50,443.66 L723.00,446.23 L723.50,448.74 L724.00,451.19 L724.50,453.58 L725.00,455.92 L725.50,458.19 L726.00,460.39 L726.50,462.53 L727.00,464.59 L727.50,466.58 L728.00,468.50 L728.50,470.33 L729.00,472.09 L729.50,473.77 L730.00,475.37 L730.50,476.88 L731.00,478.30 L731.50,479.64 L732.00,480.88 L732.50,482.04 L733.00,483.10 L733.50,484.07 L734.00,484.95 L734.50,485.73 L735.00,486.42 L735.50,487.01 L736.00,487.50 L736.50,487.89 L737.00,488.19 L737.50,488.39 L738.00,488.49 L738.50,488.49 L739.00,488.39 L739.50,488.19 L740.00,487.89 L740.50,487.50 L741.00,487.01 L741.50,486.42 L742.00,485.73 L742.50,484.95 L743.00,484.07 L743.50,483.10 L744.00,482.04 L744.50,480.88 L745.00,479.64 L745.50,478.30 L746.00,476.88 L746.50,475.37 L747.00,473.77 L747.50,472.09 L748.00,470.33 L748.50,468.50 L749.00,466.58 L749.50,464.59 L750.00,462.53 L750.50,460.39 L751.00,458.19 L751.50,455.92 L752.00,453.58 L752.50,451.19 L753.00,448.74 L753.50,446.23 L754.00,443.66 L754.50,441.05 L755.00,438.39 L755.50,435.68 L756.00,432.94 L756.50,430.15 L757.00,427.33 L757.50,424.47 L758.00,421.59 L758.50,418.67 L759.00,415.74 L759.50,412.78 L760.00,409.81 L760.50,406.82 L761.00,403.82 L761.50,400.81 L762.00,397.80 L762.50,394.79 L763.00,391.78 L763.50,388.78 L764.00,385.78 L764.50,382.80 L765.00,379.83 L765.50,376.88 L766.00,373.95 L766.50,371.05 L767.00,368.17 L767.50,365.32 L768.00,362.51 L768.50,359.73 L769.00,357.00 L769.50,354.31 L770.00,351.66 L770.50,349.06 L771.00,346.51 L771.50,344.02 L772.00,341.59 L772.50,339.21 L773.00,336.89 L773.50,334.64 L774.00,332.46 L774.50,330.35 L775.00,328.31 L775.50,326.34 L776.00,324.44 L776.50,322.63 L777.00,320.89 L777.50,319.24 L778.00,317.67 L778.50,316.19 L779.00,314.79 L779.50,313.48 L780.00,312.26 L780.50,311.13 L781.00,310.10 L781.50,309.15 L782.00,308.30 L782.50,307.55 L783.00,306.89 L783.50,306.33 L784.00,305.87 L784.50,305.51 L785.00,305.24 L785.50,305.07 L786.00,305.00 L786.50,305.03 L787.00,305.16 L787.50,305.39 L788.00,305.71 L788.50,306.14 L789.00,306.66 L789.50,307.28 L790.00,307.99 L790.50,308.80 L791.00,309.71 L791.50,310.71 L792.00,311.80 L792.50,312.98 L793.00,314.25 L793.50,315.62 L794.00,317.07 L794.50,318.60 L795.00,320.22 L795.50,321.93 L796.00,323.71 L796.50,325.57 L797.00,327.51 L797.50,329.52 L798.00,331.61 L798.50,333.76 L799.00,335.99 L799.50,338.28 L800.00,340.63 L800.50,343.04 L801.00,345.51 L801.50,348.04 L802.00,350.61 L802.50,353.24 L803.00,355.92 L803.50,358.64 L804.00,361.40 L804.50,364.19 L805.00,367.03 L805.50,369.89 L806.00,372.79 L806.50,375.70 L807.00,378.65 L807.50,381.61 L808.00,384.59 L808.50,387.58 L809.00,390.58 L809.50,393.59 L810.00,396.60 L810.50,399.61 L811.00,402.62 L811.50,405.62 L812.00,408.61 L812.50,411.59 L813.00,414.56 L813.50,417.50 L814.00,420.42 L814.50,423.32 L815.00,426.19 L815.50,429.02 L816.00,431.83 L816.50,434.59 L817.00,437.31 L817.50,439.99 L818.00,442.62 L818.50,445.21 L819.00,447.74 L819.50,450.22 L820.00,452.63 L820.50,454.99 L821.00,457.29 L821.50,459.52 L822.00,461.68 L822.50,463.77 L823.00,465.79 L823.50,467.74 L824.00,469.61 L824.50,471.40 L825.00,473.11 L825.50,474.74 L826.00,476.28 L826.50,477.74 L827.00,479.11 L827.50,480.40 L828.00,481.59 L828.50,482.69 L829.00,483.70 L829.50,484.61 L830.00,485.43 L830.50,486.16 L831.00,486.78 L831.50,487.32 L832.00,487.75 L832.50,488.08 L833.00,488.32 L833.50,488.46 L834.00,488.50 L834.50,488.44 L835.00,488.28 L835.50,488.03 L836.00,487.67 L836.50,487.22 L837.00,486.67 L837.50,486.02 L838.00,485.28 L838.50,484.44 L839.00,483.50 L839.50,482.48 L840.00,481.36 L840.50,480.15 L841.00,478.85 L841.50,477.46 L842.00,475.98 L842.50,474.42 L843.00,472.77 L843.50,471.05 L844.00,469.24 L844.50,467.36 L845.00,465.40 L845.50,463.36 L846.00,461.25 L846.50,459.08 L847.00,456.83 L847.50,454.53 L848.00,452.15 L848.50,449.72 L849.00,447.24 L849.50,444.70 L850.00,442.10 L850.50,439.46 L851.00,436.77 L851.50,434.04 L852.00,431.27 L852.50,428.46 L853.00,425.62 L853.50,422.74 L854.00,419.84 L854.50,416.91 L855.00,413.97 L855.50,411.00 L856.00,408.02 L856.50,405.02 L857.00,402.02 L857.50,399.01 L858.00,396.00 L858.50,392.99 L859.00,389.98 L859.50,386.98 L860.00,383.99 L860.50,381.02 L861.00,378.06 L861.50,375.12 L862.00,372.20 L862.50,369.32 L863.00,366.46 L863.50,363.63 L864.00,360.84 L864.50,358.09 L865.00,355.38 L865.50,352.71 L866.00,350.09 L866.50,347.53 L867.00,345.01 L867.50,342.55 L868.00,340.15 L868.50,337.81 L869.00,335.54 L869.50,333.33 L870.00,331.18 L870.50,329.11 L871.00,327.11 L871.50,325.19 L872.00,323.35 L872.50,321.58 L873.00,319.89 L873.50,318.29 L874.00,316.77 L874.50,315.34 L875.00,313.99 L875.50,312.74 L876.00,311.57 L876.50,310.50 L877.00,309.52 L877.50,308.63 L878.00,307.84 L878.50,307.15 L879.00,306.55 L879.50,306.04 L880.00,305.64 L880.50,305.33 L881.00,305.13 L881.50,305.02 L882.00,305.01 L882.50,305.10 L883.00,305.28 L883.50,305.57 L884.00,305.96 L884.50,306.44 L885.00,307.02 L885.50,307.69 L886.00,308.47 L886.50,309.33 L887.00,310.30 L887.50,311.35 L888.00,312.50 L888.50,313.73 L889.00,315.06 L889.50,316.48 L890.00,317.98 L890.50,319.56 L891.00,321.23 L891.50,322.99 L892.00,324.82 L892.50,326.72 L893.00,328.71 L893.50,330.76 L894.00,332.89 L894.50,335.09 L895.00,337.35 L895.50,339.68 L896.00,342.07 L896.50,344.52 L897.00,347.02 L897.50,349.58 L898.00,352.19 L904.50,378.50" fill="none" stroke="#d2111c" stroke-width="3.5" stroke-linejoin="round"/></g>
<g clip-path="url(#c2)"><path d="M124.00,723.43 L124.50,720.52 L125.00,717.42 L125.50,714.11 L126.00,710.62 L126.50,706.93 L127.00,703.06 L127.50,699.01 L128.00,694.78 L128.50,690.38 L129.00,685.81 L129.50,681.08 L130.00,676.20 L130.50,671.16 L131.00,665.97 L131.50,660.64 L132.00,655.18 L132.50,649.59 L133.00,643.87 L133.50,638.04 L134.00,632.09 L134.50,626.04 L135.00,619.90 L135.50,613.66 L136.00,607.34 L136.50,600.93 L137.00,594.46 L137.50,587.93 L138.00,581.33 L138.50,574.69 L139.00,568.00 L139.50,561.28 L140.00,554.53 L140.50,547.76 L141.00,540.98 L141.44,535.00 L141.50,535.73 L142.00,541.77 L142.50,547.80 L143.00,553.82 L143.50,559.82 L144.00,565.80 L144.50,571.74 L145.00,577.64 L145.50,583.49 L146.00,589.30 L146.50,595.04 L147.00,600.72 L147.50,606.33 L148.00,611.86 L148.50,617.31 L149.00,622.67 L149.50,627.94 L150.00,633.10 L150.50,638.16 L151.00,643.11 L151.50,647.95 L152.00,652.66 L152.50,657.24 L153.00,661.69 L153.50,666.01 L154.00,670.18 L154.50,674.21 L155.00,678.09 L155.50,681.82 L156.00,685.38 L156.50,688.79 L157.00,692.03 L157.50,695.10 L158.00,697.99 L158.50,700.71 L159.00,703.26 L159.50,705.62 L160.00,707.80 L160.50,709.79 L161.00,711.59 L161.50,713.20 L162.00,714.63 L162.50,715.85 L163.00,716.89 L163.50,717.72 L164.00,718.36 L164.50,718.80 L165.00,719.05 L165.50,719.09 L166.00,718.94 L166.50,718.59 L167.00,718.04 L167.50,717.29 L168.00,716.35 L168.50,715.21 L169.00,713.88 L169.50,712.36 L170.00,710.64 L170.50,708.74 L171.00,706.64 L171.50,704.37 L172.00,701.91 L172.50,699.27 L173.00,696.45 L173.50,693.46 L174.00,690.30 L174.50,686.97 L175.00,683.48 L175.50,679.82 L176.00,676.02 L176.50,672.06 L177.00,667.95 L177.50,663.70 L178.00,659.31 L178.50,654.78 L179.00,650.13 L179.50,645.35 L180.00,640.46 L180.50,635.45 L181.00,630.33 L181.50,625.11 L182.00,619.79 L182.50,614.38 L183.00,608.89 L183.50,603.31 L184.00,597.66 L184.50,591.95 L185.00,586.17 L185.50,580.34 L186.00,574.46 L186.50,568.53 L187.00,562.58 L187.50,556.59 L188.00,550.57 L188.50,544.54 L189.00,538.51 L189.29,535.00 L189.50,537.85 L190.00,544.64 L190.50,551.42 L191.00,558.18 L191.50,564.92 L192.00,571.62 L192.50,578.28 L193.00,584.90 L193.50,591.46 L194.00,597.97 L194.50,604.40 L195.00,610.76 L195.50,617.04 L196.00,623.23 L196.50,629.32 L197.00,635.32 L197.50,641.20 L198.00,646.97 L198.50,652.62 L199.00,658.15 L199.50,663.54 L200.00,668.79 L200.50,673.90 L201.00,678.86 L201.50,683.66 L202.00,688.30 L202.50,692.78 L203.00,697.09 L203.50,701.22 L204.00,705.17 L204.50,708.95 L205.00,712.53 L205.50,715.92 L206.00,719.12 L206.50,722.12 L207.00,724.91 L207.50,727.51 L208.00,729.89 L208.50,732.07 L209.00,734.03 L209.50,735.78 L210.00,737.31 L210.50,738.62 L211.00,739.72 L211.50,740.59 L212.00,741.24 L212.50,741.67 L213.00,741.88 L213.50,741.86 L214.00,741.63 L214.50,741.16 L215.00,740.48 L215.50,739.58 L216.00,738.45 L216.50,737.11 L217.00,735.54 L217.50,733.77 L218.00,731.77 L218.50,729.57 L219.00,727.15 L219.50,724.53 L220.00,721.71 L220.50,718.68 L221.00,715.46 L221.50,712.04 L222.00,708.43 L222.50,704.63 L223.00,700.65 L223.50,696.49 L224.00,692.16 L224.50,687.66 L225.00,683.00 L225.50,678.17 L226.00,673.19 L226.50,668.06 L227.00,662.79 L227.50,657.38 L228.00,651.84 L228.50,646.17 L229.00,640.38 L229.50,634.48 L230.00,628.48 L230.50,622.37 L231.00,616.17 L231.50,609.88 L232.00,603.50 L232.50,597.06 L233.00,590.55 L233.50,583.98 L234.00,577.35 L234.50,570.68 L235.00,563.97 L235.50,557.23 L236.00,550.47 L236.50,543.69 L237.00,536.90 L237.14,535.00 L237.50,539.35 L238.00,545.39 L238.50,551.42 L239.00,557.43 L239.50,563.41 L240.00,569.37 L240.50,575.28 L241.00,581.16 L241.50,586.98 L242.00,592.75 L242.50,598.46 L243.00,604.10 L243.50,609.66 L244.00,615.14 L244.50,620.54 L245.00,625.84 L245.50,631.05 L246.00,636.15 L246.50,641.15 L247.00,646.03 L247.50,650.79 L248.00,655.42 L248.50,659.93 L249.00,664.30 L249.50,668.53 L250.00,672.62 L250.50,676.56 L251.00,680.35 L251.50,683.98 L252.00,687.45 L252.50,690.75 L253.00,693.89 L253.50,696.86 L254.00,699.65 L254.50,702.26 L255.00,704.70 L255.50,706.95 L256.00,709.01 L256.50,710.89 L257.00,712.58 L257.50,714.08 L258.00,715.39 L258.50,716.50 L259.00,717.41 L259.50,718.13 L260.00,718.65 L260.50,718.97 L261.00,719.10 L261.50,719.02 L262.00,718.75 L262.50,718.28 L263.00,717.62 L263.50,716.75 L264.00,715.69 L264.50,714.44 L265.00,712.99 L265.50,711.35 L266.00,709.52 L266.50,707.50 L267.00,705.30 L267.50,702.91 L268.00,700.34 L268.50,697.60 L269.00,694.68 L269.50,691.58 L270.00,688.32 L270.50,684.89 L271.00,681.30 L271.50,677.56 L272.00,673.66 L272.50,669.61 L273.00,665.41 L273.50,661.08 L274.00,656.61 L274.50,652.00 L275.00,647.28 L275.50,642.43 L276.00,637.46 L276.50,632.39 L277.00,627.21 L277.50,621.93 L278.00,616.55 L278.50,611.09 L279.00,605.55 L279.50,599.93 L280.00,594.24 L280.50,588.49 L281.00,582.68 L281.50,576.82 L282.00,570.91 L282.50,564.96 L283.00,558.98 L283.50,552.98 L284.00,546.96 L284.50,540.92 L284.99,535.00 L285.00,535.14 L285.50,541.93 L286.00,548.71 L286.50,555.48 L287.00,562.22 L287.50,568.94 L288.00,575.62 L288.50,582.26 L289.00,588.84 L289.50,595.37 L290.00,601.84 L290.50,608.23 L291.00,614.54 L291.50,620.76 L292.00,626.90 L292.50,632.93 L293.00,638.86 L293.50,644.68 L294.00,650.38 L294.50,655.95 L295.00,661.40 L295.50,666.71 L296.00,671.87 L296.50,676.89 L297.00,681.76 L297.50,686.46 L298.00,691.01 L298.50,695.38 L299.00,699.59 L299.50,703.61 L300.00,707.46 L300.50,711.12 L301.00,714.59 L301.50,717.86 L302.00,720.94 L302.50,723.82 L303.00,726.49 L303.50,728.96 L304.00,731.22 L304.50,733.27 L305.00,735.10 L305.50,736.72 L306.00,738.12 L306.50,739.30 L307.00,740.27 L307.50,741.01 L308.00,741.53 L308.50,741.82 L309.00,741.90 L309.50,741.75 L310.00,741.38 L310.50,740.78 L311.00,739.96 L311.50,738.93 L312.00,737.67 L312.50,736.20 L313.00,734.50 L313.50,732.60 L314.00,730.48 L314.50,728.15 L315.00,725.61 L315.50,722.86 L316.00,719.92 L316.50,716.77 L317.00,713.43 L317.50,709.89 L318.00,706.17 L318.50,702.27 L319.00,698.18 L319.50,693.92 L320.00,689.48 L320.50,684.88 L321.00,680.12 L321.50,675.20 L322.00,670.13 L322.50,664.92 L323.00,659.56 L323.50,654.07 L324.00,648.45 L324.50,642.71 L325.00,636.86 L325.50,630.89 L326.00,624.82 L326.50,618.66 L327.00,612.40 L327.50,606.06 L328.00,599.65 L328.50,593.16 L329.00,586.61 L329.50,580.01 L330.00,573.36 L330.50,566.66 L331.00,559.93 L331.50,553.18 L332.00,546.40 L332.50,539.62 L332.84,535.00 L333.00,536.93 L333.50,542.97 L334.00,549.01 L334.50,555.02 L335.00,561.02 L335.50,566.99 L336.00,572.92 L336.50,578.81 L337.00,584.66 L337.50,590.45 L338.00,596.18 L338.50,601.85 L339.00,607.44 L339.50,612.96 L340.00,618.39 L340.50,623.73 L341.00,628.98 L341.50,634.12 L342.00,639.16 L342.50,644.09 L343.00,648.90 L343.50,653.58 L344.00,658.14 L344.50,662.57 L345.00,666.86 L345.50,671.00 L346.00,675.00 L346.50,678.85 L347.00,682.54 L347.50,686.08 L348.00,689.45 L348.50,692.65 L349.00,695.69 L349.50,698.55 L350.00,701.24 L350.50,703.74 L351.00,706.07 L351.50,708.21 L352.00,710.16 L352.50,711.93 L353.00,713.50 L353.50,714.89 L354.00,716.07 L354.50,717.07 L355.00,717.87 L355.50,718.47 L356.00,718.87 L356.50,719.07 L357.00,719.08 L357.50,718.89 L358.00,718.50 L358.50,717.91 L359.00,717.12 L359.50,716.14 L360.00,714.96 L360.50,713.59 L361.00,712.03 L361.50,710.28 L362.00,708.33 L362.50,706.20 L363.00,703.89 L363.50,701.39 L364.00,698.72 L364.50,695.87 L365.00,692.84 L365.50,689.65 L366.00,686.28 L366.50,682.76 L367.00,679.08 L367.50,675.24 L368.00,671.25 L368.50,667.11 L369.00,662.83 L369.50,658.41 L370.00,653.86 L370.50,649.18 L371.00,644.38 L371.50,639.46 L372.00,634.43 L372.50,629.29 L373.00,624.05 L373.50,618.71 L374.00,613.29 L374.50,607.78 L375.00,602.19 L375.50,596.53 L376.00,590.80 L376.50,585.01 L377.00,579.17 L377.50,573.28 L378.00,567.35 L378.50,561.39 L379.00,555.41 L379.50,549.39 L380.00,543.36 L380.50,537.30 L380.69,535.00 L381.00,539.20 L381.50,545.96 L382.00,552.70 L382.50,559.42 L383.00,566.11 L383.50,572.76 L384.00,579.36 L384.50,585.90 L385.00,592.39 L385.50,598.81 L386.00,605.15 L386.50,611.42 L387.00,617.59 L387.50,623.67 L388.00,629.66 L388.50,635.53 L389.00,641.29 L389.50,646.94 L390.00,652.46 L390.50,657.84 L391.00,663.10 L391.50,668.21 L392.00,673.17 L392.50,677.98 L393.00,682.63 L393.50,687.12 L394.00,691.45 L394.50,695.60 L395.00,699.58 L395.50,703.38 L396.00,706.99 L396.50,710.42 L397.00,713.65 L397.50,716.69 L398.00,719.54 L398.50,722.18 L399.00,724.62 L399.50,726.86 L400.00,728.89 L400.50,730.71 L401.00,732.31 L401.50,733.71 L402.00,734.89 L402.50,735.85 L403.00,736.60 L403.50,737.13 L404.00,737.44 L404.50,737.54 L405.00,737.41 L405.50,737.07 L406.00,736.52 L406.50,735.74 L407.00,734.75 L407.50,733.55 L408.00,732.14 L408.50,730.51 L409.00,728.67 L409.50,726.63 L410.00,724.39 L410.50,721.94 L411.00,719.29 L411.50,716.44 L412.00,713.40 L412.50,710.17 L413.00,706.76 L413.50,703.16 L414.00,699.38 L414.50,695.43 L415.00,691.31 L415.50,687.02 L416.00,682.57 L416.50,677.96 L417.00,673.21 L417.50,668.30 L418.00,663.26 L418.50,658.08 L419.00,652.77 L419.50,647.34 L420.00,641.79 L420.50,636.12 L421.00,630.35 L421.50,624.48 L422.00,618.52 L422.50,612.47 L423.00,606.34 L423.50,600.14 L424.00,593.86 L424.50,587.53 L425.00,581.15 L425.50,574.71 L426.00,568.24 L426.50,561.74 L427.00,555.21 L427.50,548.65 L428.00,542.09 L428.50,535.53 L428.54,535.00 L429.00,540.77 L429.50,547.03 L430.00,553.29 L430.50,559.53 L431.00,565.74 L431.50,571.92 L432.00,578.07 L432.50,584.17 L433.00,590.22 L433.50,596.22 L434.00,602.15 L434.50,608.01 L435.00,613.79 L435.50,619.49 L436.00,625.10 L436.50,630.62 L437.00,636.03 L437.50,641.34 L438.00,646.54 L438.50,651.62 L439.00,656.57 L439.50,661.39 L440.00,666.08 L440.50,670.63 L441.00,675.03 L441.50,679.29 L442.00,683.39 L442.50,687.33 L443.00,691.11 L443.50,694.72 L444.00,698.16 L444.50,701.42 L445.00,704.51 L445.50,707.42 L446.00,710.13 L446.50,712.67 L447.00,715.01 L447.50,717.15 L448.00,719.10 L448.50,720.86 L449.00,722.41 L449.50,723.76 L450.00,724.91 L450.50,725.85 L451.00,726.59 L451.50,727.12 L452.00,727.44 L452.50,727.56 L453.00,727.47 L453.50,727.17 L454.00,726.66 L454.50,725.95 L455.00,725.03 L455.50,723.90 L456.00,722.57 L456.50,721.04 L457.00,719.31 L457.50,717.37 L458.00,715.24 L458.50,712.92 L459.00,710.40 L459.50,707.70 L460.00,704.80 L460.50,701.72 L461.00,698.47 L461.50,695.03 L462.00,691.42 L462.50,687.64 L463.00,683.70 L463.50,679.59 L464.00,675.33 L464.50,670.92 L465.00,666.35 L465.50,661.65 L466.00,656.81 L466.50,651.83 L467.00,646.73 L467.50,641.50 L468.00,636.16 L468.50,630.71 L469.00,625.16 L469.50,619.51 L470.00,613.76 L470.50,607.93 L471.00,602.02 L471.50,596.04 L472.00,589.98 L472.50,583.87 L473.00,577.71 L473.50,571.49 L474.00,565.24 L474.50,558.95 L475.00,552.64 L475.50,546.30 L476.00,539.96 L476.39,535.00 L476.50,536.43 L477.00,542.90 L477.50,549.37 L478.00,555.82 L478.50,562.25 L479.00,568.65 L479.50,575.01 L480.00,581.32 L480.50,587.59 L481.00,593.79 L481.50,599.94 L482.00,606.01 L482.50,612.00 L483.00,617.92 L483.50,623.74 L484.00,629.46 L484.50,635.08 L485.00,640.59 L485.50,645.99 L486.00,651.27 L486.50,656.42 L487.00,661.44 L487.50,666.33 L488.00,671.07 L488.50,675.66 L489.00,680.11 L489.50,684.39 L490.00,688.51 L490.50,692.47 L491.00,696.26 L491.50,699.87 L492.00,703.31 L492.50,706.56 L493.00,709.63 L493.50,712.51 L494.00,715.20 L494.50,717.70 L495.00,719.99 L495.50,722.09 L496.00,723.99 L496.50,725.68 L497.00,727.17 L497.50,728.45 L498.00,729.52 L498.50,730.38 L499.00,731.03 L499.50,731.47 L500.00,731.70 L500.50,731.71 L501.00,731.52 L501.50,731.11 L502.00,730.49 L502.50,729.66 L503.00,728.63 L503.50,727.38 L504.00,725.93 L504.50,724.27 L505.00,722.40 L505.50,720.34 L506.00,718.07 L506.50,715.61 L507.00,712.96 L507.50,710.11 L508.00,707.08 L508.50,703.86 L509.00,700.46 L509.50,696.88 L510.00,693.12 L510.50,689.20 L511.00,685.11 L511.50,680.86 L512.00,676.45 L512.50,671.89 L513.00,667.19 L513.50,662.34 L514.00,657.35 L514.50,652.24 L515.00,647.00 L515.50,641.63 L516.00,636.16 L516.50,630.57 L517.00,624.89 L517.50,619.10 L518.00,613.23 L518.50,607.27 L519.00,601.24 L519.50,595.13 L520.00,588.96 L520.50,582.73 L521.00,576.45 L521.50,570.13 L522.00,563.77 L522.50,557.38 L523.00,550.96 L523.50,544.53 L524.00,538.09 L524.24,535.00 L524.50,538.32 L525.00,544.71 L525.50,551.09 L526.00,557.45 L526.50,563.79 L527.00,570.10 L527.50,576.37 L528.00,582.59 L528.50,588.77 L529.00,594.88 L529.50,600.94 L530.00,606.92 L530.50,612.82 L531.00,618.64 L531.50,624.38 L532.00,630.01 L532.50,635.55 L533.00,640.97 L533.50,646.28 L534.00,651.48 L534.50,656.54 L535.00,661.48 L535.50,666.28 L536.00,670.94 L536.50,675.45 L537.00,679.81 L537.50,684.02 L538.00,688.07 L538.50,691.95 L539.00,695.66 L539.50,699.20 L540.00,702.56 L540.50,705.74 L541.00,708.74 L541.50,711.55 L542.00,714.17 L542.50,716.60 L543.00,718.83 L543.50,720.87 L544.00,722.70 L544.50,724.33 L545.00,725.76 L545.50,726.98 L546.00,728.00 L546.50,728.80 L547.00,729.40 L547.50,729.79 L548.00,729.97 L548.50,729.94 L549.00,729.70 L549.50,729.25 L550.00,728.59 L550.50,727.72 L551.00,726.64 L551.50,725.36 L552.00,723.87 L552.50,722.18 L553.00,720.28 L553.50,718.19 L554.00,715.90 L554.50,713.41 L555.00,710.73 L555.50,707.86 L556.00,704.81 L556.50,701.57 L557.00,698.15 L557.50,694.56 L558.00,690.79 L558.50,686.86 L559.00,682.76 L559.50,678.51 L560.00,674.09 L560.50,669.53 L561.00,664.83 L561.50,659.98 L562.00,655.00 L562.50,649.89 L563.00,644.65 L563.50,639.30 L564.00,633.83 L564.50,628.26 L565.00,622.58 L565.50,616.81 L566.00,610.96 L566.50,605.02 L567.00,599.00 L567.50,592.92 L568.00,586.77 L568.50,580.57 L569.00,574.32 L569.50,568.02 L570.00,561.69 L570.50,555.34 L571.00,548.95 L571.50,542.56 L572.00,536.15 L572.09,535.00 L572.50,540.27 L573.00,546.69 L573.50,553.10 L574.00,559.49 L574.50,565.86 L575.00,572.18 L575.50,578.47 L576.00,584.72 L576.50,590.91 L577.00,597.03 L577.50,603.09 L578.00,609.08 L578.50,614.99 L579.00,620.81 L579.50,626.54 L580.00,632.17 L580.50,637.70 L581.00,643.11 L581.50,648.41 L582.00,653.58 L582.50,658.63 L583.00,663.54 L583.50,668.32 L584.00,672.95 L584.50,677.43 L585.00,681.76 L585.50,685.94 L586.00,689.94 L586.50,693.79 L587.00,697.46 L587.50,700.95 L588.00,704.27 L588.50,707.40 L589.00,710.35 L589.50,713.11 L590.00,715.68 L590.50,718.05 L591.00,720.22 L591.50,722.20 L592.00,723.97 L592.50,725.54 L593.00,726.91 L593.50,728.06 L594.00,729.01 L594.50,729.76 L595.00,730.29 L595.50,730.61 L596.00,730.72 L596.50,730.62 L597.00,730.30 L597.50,729.78 L598.00,729.05 L598.50,728.11 L599.00,726.96 L599.50,725.60 L600.00,724.04 L600.50,722.28 L601.00,720.31 L601.50,718.14 L602.00,715.78 L602.50,713.22 L603.00,710.47 L603.50,707.53 L604.00,704.41 L604.50,701.10 L605.00,697.61 L605.50,693.95 L606.00,690.12 L606.50,686.12 L607.00,681.95 L607.50,677.63 L608.00,673.16 L608.50,668.53 L609.00,663.77 L609.50,658.86 L610.00,653.82 L610.50,648.65 L611.00,643.36 L611.50,637.96 L612.00,632.44 L612.50,626.82 L613.00,621.10 L613.50,615.28 L614.00,609.38 L614.50,603.40 L615.00,597.35 L615.50,591.23 L616.00,585.05 L616.50,578.81 L617.00,572.53 L617.50,566.21 L618.00,559.85 L618.50,553.47 L619.00,547.07 L619.50,540.65 L619.94,535.00 L619.95,535.00 L620.64,563.00 L622.34,565.66 L622.50,567.68 L623.00,573.99 L623.50,580.25 L624.00,586.46 L624.50,592.62 L625.00,598.72 L625.50,604.75 L626.00,610.70 L626.50,616.57 L627.00,622.35 L627.50,628.04 L628.00,633.63 L628.50,639.12 L629.00,644.49 L629.50,649.74 L630.00,654.87 L630.50,659.87 L631.00,664.73 L631.50,669.46 L632.00,674.04 L632.50,678.47 L633.00,682.75 L633.50,686.87 L634.00,690.82 L634.50,694.61 L635.00,698.22 L635.50,701.66 L636.00,704.92 L636.50,707.99 L637.00,710.88 L637.50,713.58 L638.00,716.09 L638.50,718.40 L639.00,720.52 L639.50,722.43 L640.00,724.15 L640.50,725.65 L641.00,726.96 L641.50,728.05 L642.00,728.94 L642.50,729.62 L643.00,730.09 L643.50,730.35 L644.00,730.40 L644.50,730.24 L645.00,729.87 L645.50,729.29 L646.00,728.50 L646.50,727.50 L647.00,726.29 L647.50,724.88 L648.00,723.26 L648.50,721.44 L649.00,719.42 L649.50,717.20 L650.00,714.78 L650.50,712.17 L651.00,709.37 L651.50,706.38 L652.00,703.20 L652.50,699.85 L653.00,696.32 L653.50,692.61 L654.00,688.73 L654.50,684.69 L655.00,680.49 L655.50,676.13 L656.00,671.61 L656.50,666.95 L657.00,662.15 L657.50,657.21 L658.00,652.14 L658.50,646.95 L659.00,641.63 L659.50,636.20 L660.00,630.65 L660.50,625.01 L661.00,619.27 L661.50,613.43 L662.00,607.52 L662.50,601.52 L663.00,595.45 L663.50,589.32 L664.00,583.13 L664.50,576.89 L665.00,570.60 L665.50,564.27 L666.00,557.92 L666.50,551.53 L667.00,545.13 L667.50,538.72 L667.79,535.00 L668.00,537.70 L668.50,544.11 L669.00,550.52 L669.50,556.91 L670.00,563.28 L670.50,569.61 L671.00,575.91 L671.50,582.16 L672.00,588.37 L672.50,594.51 L673.00,600.59 L673.50,606.61 L674.00,612.54 L674.50,618.39 L675.00,624.15 L675.50,629.81 L676.00,635.38 L676.50,640.83 L677.00,646.17 L677.50,651.39 L678.00,656.48 L678.50,661.45 L679.00,666.28 L679.50,670.96 L680.00,675.50 L680.50,679.89 L681.00,684.12 L681.50,688.19 L682.00,692.10 L682.50,695.83 L683.00,699.40 L683.50,702.78 L684.00,705.99 L684.50,709.01 L685.00,711.84 L685.50,714.49 L686.00,716.94 L686.50,719.19 L687.00,721.25 L687.50,723.10 L688.00,724.75 L688.50,726.20 L689.00,727.44 L689.50,728.48 L690.00,729.30 L690.50,729.92 L691.00,730.32 L691.50,730.52 L692.00,730.50 L692.50,730.28 L693.00,729.84 L693.50,729.20 L694.00,728.34 L694.50,727.28 L695.00,726.01 L695.50,724.53 L696.00,722.85 L696.50,720.96 L697.00,718.88 L697.50,716.60 L698.00,714.12 L698.50,711.45 L699.00,708.59 L699.50,705.54 L700.00,702.31 L700.50,698.90 L701.00,695.31 L701.50,691.55 L702.00,687.62 L702.50,683.53 L703.00,679.27 L703.50,674.86 L704.00,670.30 L704.50,665.60 L705.00,660.75 L705.50,655.77 L706.00,650.66 L706.50,645.42 L707.00,640.06 L707.50,634.59 L708.00,629.02 L708.50,623.34 L709.00,617.57 L709.50,611.70 L710.00,605.76 L710.50,599.74 L711.00,593.65 L711.50,587.49 L712.00,581.28 L712.50,575.02 L713.00,568.72 L713.50,562.38 L714.00,556.01 L714.50,549.62 L715.00,543.21 L715.50,536.80 L715.64,535.00 L715.65,535.00 L716.34,563.50 L718.04,565.67 L718.50,571.49 L719.00,577.77 L719.50,584.01 L720.00,590.20 L720.50,596.32 L721.00,602.38 L721.50,608.37 L722.00,614.27 L722.50,620.10 L723.00,625.83 L723.50,631.46 L724.00,636.99 L724.50,642.41 L725.00,647.71 L725.50,652.89 L726.00,657.94 L726.50,662.87 L727.00,667.65 L727.50,672.29 L728.00,676.79 L728.50,681.13 L729.00,685.31 L729.50,689.33 L730.00,693.19 L730.50,696.87 L731.00,700.38 L731.50,703.71 L732.00,706.86 L732.50,709.83 L733.00,712.60 L733.50,715.19 L734.00,717.58 L734.50,719.77 L735.00,721.77 L735.50,723.56 L736.00,725.15 L736.50,726.54 L737.00,727.72 L737.50,728.69 L738.00,729.45 L738.50,730.01 L739.00,730.35 L739.50,730.48 L740.00,730.40 L740.50,730.12 L741.00,729.62 L741.50,728.91 L742.00,727.99 L742.50,726.87 L743.00,725.53 L743.50,724.00 L744.00,722.26 L744.50,720.31 L745.00,718.17 L745.50,715.83 L746.00,713.30 L746.50,710.57 L747.00,707.65 L747.50,704.55 L748.00,701.27 L748.50,697.80 L749.00,694.16 L749.50,690.35 L750.00,686.38 L750.50,682.23 L751.00,677.93 L751.50,673.48 L752.00,668.88 L752.50,664.13 L753.00,659.24 L753.50,654.22 L754.00,649.07 L754.50,643.80 L755.00,638.41 L755.50,632.91 L756.00,627.30 L756.50,621.60 L757.00,615.80 L757.50,609.91 L758.00,603.95 L758.50,597.91 L759.00,591.80 L759.50,585.63 L760.00,579.40 L760.50,573.13 L761.00,566.82 L761.50,560.47 L762.00,554.09 L762.50,547.70 L763.00,541.29 L763.49,535.00 L763.50,535.13 L764.00,541.55 L764.50,547.96 L765.00,554.35 L765.50,560.73 L766.00,567.07 L766.50,573.39 L767.00,579.66 L767.50,585.88 L768.00,592.05 L768.50,598.16 L769.00,604.19 L769.50,610.16 L770.00,616.04 L770.50,621.84 L771.00,627.54 L771.50,633.14 L772.00,638.64 L772.50,644.03 L773.00,649.29 L773.50,654.44 L774.00,659.45 L774.50,664.34 L775.00,669.08 L775.50,673.68 L776.00,678.12 L776.50,682.42 L777.00,686.55 L777.50,690.53 L778.00,694.33 L778.50,697.96 L779.00,701.42 L779.50,704.70 L780.00,707.79 L780.50,710.70 L781.00,713.42 L781.50,715.95 L782.00,718.28 L782.50,720.42 L783.00,722.35 L783.50,724.08 L784.00,725.61 L784.50,726.94 L785.00,728.05 L785.50,728.96 L786.00,729.66 L786.50,730.15 L787.00,730.43 L787.50,730.50 L788.00,730.36 L788.50,730.01 L789.00,729.45 L789.50,728.68 L790.00,727.70 L790.50,726.51 L791.00,725.12 L791.50,723.52 L792.00,721.71 L792.50,719.71 L793.00,717.51 L793.50,715.11 L794.00,712.52 L794.50,709.73 L795.00,706.76 L795.50,703.60 L796.00,700.26 L796.50,696.75 L797.00,693.05 L797.50,689.19 L798.00,685.16 L798.50,680.97 L799.00,676.63 L799.50,672.13 L800.00,667.48 L800.50,662.69 L801.00,657.76 L801.50,652.70 L802.00,647.51 L802.50,642.21 L803.00,636.78 L803.50,631.25 L804.00,625.61 L804.50,619.88 L805.00,614.05 L805.50,608.14 L806.00,602.15 L806.50,596.09 L807.00,589.96 L807.50,583.77 L808.00,577.53 L808.50,571.24 L809.00,564.92 L809.50,558.56 L810.00,552.18 L810.50,545.78 L811.00,539.36 L811.35,535.00 L812.04,563.00 L813.74,565.68 L814.00,568.97 L814.50,575.27 L815.00,581.53 L815.50,587.73 L816.00,593.88 L816.50,599.97 L817.00,605.99 L817.50,611.93 L818.00,617.79 L818.50,623.55 L819.00,629.23 L819.50,634.80 L820.00,640.26 L820.50,645.61 L821.00,650.84 L821.50,655.95 L822.00,660.92 L822.50,665.76 L823.00,670.46 L823.50,675.02 L824.00,679.42 L824.50,683.67 L825.00,687.75 L825.50,691.68 L826.00,695.43 L826.50,699.01 L827.00,702.41 L827.50,705.64 L828.00,708.68 L828.50,711.53 L829.00,714.19 L829.50,716.66 L830.00,718.93 L830.50,721.01 L831.00,722.88 L831.50,724.55 L832.00,726.02 L832.50,727.28 L833.00,728.34 L833.50,729.19 L834.00,729.82 L834.50,730.25 L835.00,730.47 L835.50,730.47 L836.00,730.27 L836.50,729.85 L837.00,729.23 L837.50,728.40 L838.00,727.35 L838.50,726.10 L839.00,724.65 L839.50,722.99 L840.00,721.13 L840.50,719.06 L841.00,716.80 L841.50,714.34 L842.00,711.69 L842.50,708.85 L843.00,705.83 L843.50,702.61 L844.00,699.22 L844.50,695.65 L845.00,691.91 L845.50,687.99 L846.00,683.92 L846.50,679.68 L847.00,675.29 L847.50,670.74 L848.00,666.05 L848.50,661.22 L849.00,656.25 L849.50,651.15 L850.00,645.93 L850.50,640.59 L851.00,635.13 L851.50,629.56 L852.00,623.90 L852.50,618.13 L853.00,612.28 L853.50,606.35 L854.00,600.33 L854.50,594.25 L855.00,588.10 L855.50,581.90 L856.00,575.65 L856.50,569.35 L857.00,563.01 L857.29,559.32 L860.19,556.00 L861.49,559.00 L861.49,564.41 L861.50,564.54 L861.59,535.00 L862.00,570.86 L862.50,577.15 L863.00,583.40 L863.50,589.59 L864.00,595.72 L864.50,601.79 L865.00,607.78 L865.50,613.70 L866.00,619.53 L866.50,625.27 L867.00,630.91 L867.50,636.45 L868.00,641.88 L868.50,647.20 L869.00,652.39 L869.50,657.46 L870.00,662.39 L870.50,667.19 L871.00,671.85 L871.50,676.36 L872.00,680.71 L872.50,684.91 L873.00,688.95 L873.50,692.82 L874.00,696.53 L874.50,700.05 L875.00,703.40 L875.50,706.57 L876.00,709.56 L876.50,712.35 L877.00,714.96 L877.50,717.37 L878.00,719.58 L878.50,721.60 L879.00,723.41 L879.50,725.02 L880.00,726.43 L880.50,727.63 L881.00,728.62 L881.50,729.40 L882.00,729.98 L882.50,730.34 L883.00,730.50 L883.50,730.44 L884.00,730.17 L884.50,729.69 L885.00,729.01 L885.50,728.11 L886.00,727.00 L886.50,725.69 L887.00,724.18 L887.50,722.45 L888.00,720.53 L888.50,718.41 L889.00,716.09 L889.50,713.57 L890.00,710.86 L890.50,707.97 L891.00,704.88 L891.50,701.62 L892.00,698.17 L892.50,694.55 L893.00,690.75 L893.50,686.79 L894.00,682.67 L894.50,678.38 L895.00,673.94 L895.50,669.35 L896.00,664.62 L896.50,659.75 L897.00,654.74 L897.50,649.60 L898.00,644.34 L898.50,638.96 L899.00,633.47 L899.50,627.88 L900.00,622.18 L900.50,616.39 L901.00,610.51 L901.50,604.55 L902.00,598.52 L902.50,592.41 L903.00,586.25 L903.50,580.03 L904.00,573.76" fill="none" stroke="#d2111c" stroke-width="3.5" stroke-linejoin="round"/></g>
<line x1="285.0" y1="281.8" x2="285.0" y2="784.4" stroke="#000" stroke-width="2" stroke-dasharray="8 5.8" stroke-dashoffset="2.1"/>
<line x1="332.2" y1="281.8" x2="332.2" y2="784.4" stroke="#000" stroke-width="2" stroke-dasharray="8 5.8" stroke-dashoffset="2.1"/>
<line x1="427.9" y1="281.8" x2="427.9" y2="784.4" stroke="#000" stroke-width="2" stroke-dasharray="8 5.8" stroke-dashoffset="2.1"/>
<line x1="478.1" y1="281.8" x2="478.1" y2="784.4" stroke="#000" stroke-width="2" stroke-dasharray="8 5.8" stroke-dashoffset="2.1"/>
<line x1="524.9" y1="281.8" x2="524.9" y2="784.4" stroke="#000" stroke-width="2" stroke-dasharray="8 5.8" stroke-dashoffset="2.1"/>
<line x1="377.8" y1="26.5" x2="377.8" y2="784.4" stroke="#000" stroke-width="2" stroke-dasharray="15 7.7" stroke-dashoffset="0"/>
<rect x="0" y="0" width="932" height="25.8" fill="#000"/>
<rect x="124.0" y="26.5" width="780.0" height="231.7" fill="none" stroke="#000" stroke-width="2"/>
<rect x="124.0" y="281.8" width="780.0" height="231.2" fill="none" stroke="#000" stroke-width="2"/>
<rect x="124.0" y="534.8" width="780.0" height="249.60000000000002" fill="none" stroke="#000" stroke-width="2"/>
<line x1="124.0" y1="129.6" x2="138.5" y2="129.6" stroke="#000" stroke-width="2"/>
<line x1="124.0" y1="242.1" x2="138.5" y2="242.1" stroke="#000" stroke-width="2"/>
<line x1="124.0" y1="300.7" x2="138.5" y2="300.7" stroke="#000" stroke-width="2"/>
<line x1="124.0" y1="397.2" x2="138.5" y2="397.2" stroke="#000" stroke-width="2"/>
<line x1="124.0" y1="493.2" x2="138.5" y2="493.2" stroke="#000" stroke-width="2"/>
<line x1="189.0" y1="258.2" x2="189.0" y2="245.2" stroke="#000" stroke-width="2"/>
<line x1="427.2" y1="258.2" x2="427.2" y2="245.2" stroke="#000" stroke-width="2"/>
<line x1="665.4" y1="258.2" x2="665.4" y2="245.2" stroke="#000" stroke-width="2"/>
<line x1="189.0" y1="513.0" x2="189.0" y2="500.0" stroke="#000" stroke-width="2"/>
<line x1="427.2" y1="513.0" x2="427.2" y2="500.0" stroke="#000" stroke-width="2"/>
<line x1="665.4" y1="513.0" x2="665.4" y2="500.0" stroke="#000" stroke-width="2"/>
<line x1="189.0" y1="784.4" x2="189.0" y2="771.4" stroke="#000" stroke-width="2"/>
<line x1="427.2" y1="784.4" x2="427.2" y2="771.4" stroke="#000" stroke-width="2"/>
<line x1="665.4" y1="784.4" x2="665.4" y2="771.4" stroke="#000" stroke-width="2"/>
<line x1="192.7" y1="136.5" x2="159.4" y2="168.7" stroke="#000" stroke-width="2"/>
<line x1="463.1" y1="64.5" x2="427.7" y2="92.6" stroke="#000" stroke-width="2"/>
<line x1="378" y1="241" x2="430.6" y2="217.8" stroke="#000" stroke-width="2"/>
<line x1="643.7" y1="360.7" x2="622.1" y2="394.8" stroke="#000" stroke-width="2"/>
<text transform="translate(112.5,143.0) scale(1,1.0)" font-family='"Liberation Serif", "Noto Serif CJK SC", serif' font-size="35" text-anchor="end" fill="#000" >355</text>
<text transform="translate(112.5,254.8) scale(1,1.0)" font-family='"Liberation Serif", "Noto Serif CJK SC", serif' font-size="35" text-anchor="end" fill="#000" >305</text>
<text transform="translate(112.5,313.2) scale(1,1.0)" font-family='"Liberation Serif", "Noto Serif CJK SC", serif' font-size="35" text-anchor="end" fill="#000" >5</text>
<text transform="translate(112.5,408.8) scale(1,1.0)" font-family='"Liberation Serif", "Noto Serif CJK SC", serif' font-size="35" text-anchor="end" fill="#000" >0</text>
<text transform="translate(112.5,505) scale(1,1.0)" font-family='"Liberation Serif", "Noto Serif CJK SC", serif' font-size="35" text-anchor="end" fill="#000" >−5</text>
<text transform="translate(113,546.6) scale(1,1.0)" font-family='"Liberation Serif", "Noto Serif CJK SC", serif' font-size="35" text-anchor="end" fill="#000" >1.0</text>
<text transform="translate(111,795.8) scale(1,1.0)" font-family='"Liberation Serif", "Noto Serif CJK SC", serif' font-size="35" text-anchor="end" fill="#000" >0.1</text>
<text transform="translate(189.0,825.5) scale(1,1.0)" font-family='"Liberation Serif", "Noto Serif CJK SC", serif' font-size="35" text-anchor="middle" fill="#000" >0.80</text>
<text transform="translate(427.2,825.5) scale(1,1.0)" font-family='"Liberation Serif", "Noto Serif CJK SC", serif' font-size="35" text-anchor="middle" fill="#000" >0.85</text>
<text transform="translate(665.4,825.5) scale(1,1.0)" font-family='"Liberation Serif", "Noto Serif CJK SC", serif' font-size="35" text-anchor="middle" fill="#000" >0.90</text>
<text transform="translate(903.6,825.5) scale(1,1.0)" font-family='"Liberation Serif", "Noto Serif CJK SC", serif' font-size="35" text-anchor="middle" fill="#000" >0.95</text>
<text transform="translate(513.5,878) scale(1,1)" font-family='"Liberation Serif", "Noto Serif CJK SC", serif' font-size="33.5" text-anchor="middle" fill="#000" font-weight="500">时间/s</text>
<text transform="translate(28.9,226.9) rotate(-90) scale(1.0,1.0)" font-family='"Liberation Serif", "Noto Serif CJK SC", serif' font-size="33" fill="#000"  font-weight="500" letter-spacing="2">输出电压</text>
<text transform="translate(27.5,89.0) rotate(-90) scale(1.0,1.08)" font-family='"Liberation Serif", "Noto Serif CJK SC", serif' font-size="35" fill="#000" >/V</text>
<text transform="translate(28.9,481.5) rotate(-90) scale(1.0,1.0)" font-family='"Liberation Serif", "Noto Serif CJK SC", serif' font-size="33" fill="#000"  font-weight="500" letter-spacing="2">电感电流</text>
<text transform="translate(27.5,348.0) rotate(-90) scale(1.0,1.08)" font-family='"Liberation Serif", "Noto Serif CJK SC", serif' font-size="35" fill="#000" >/A</text>
<text transform="translate(28.9,734.0) rotate(-90) scale(1.0,1.0)" font-family='"Liberation Serif", "Noto Serif CJK SC", serif' font-size="33" fill="#000"  font-weight="500" letter-spacing="2">调制波</text>
<text transform="translate(26.5,631.3) rotate(-90) skewX(-15) scale(0.78,1.05)" font-family='"Liberation Serif", "Noto Serif CJK SC", serif' font-size="35" fill="#000">V</text>
<text transform="translate(36.5,609.5) rotate(-90) scale(1.0,1.0)" font-family='"Liberation Serif", "Noto Serif CJK SC", serif' font-size="27" fill="#000" >ca</text>
<text x="203" y="147.6" font-family='"Liberation Serif", "Noto Serif CJK SC", serif' font-size="34" fill="#000"><tspan font-style="italic">V</tspan><tspan font-size="24" dx="-2" dy="10">p</tspan></text>
<text x="473" y="75" font-family='"Liberation Serif", "Noto Serif CJK SC", serif' font-size="34" fill="#000"><tspan font-style="italic">V</tspan><tspan font-size="25" dx="-2.5" dy="10.5">n</tspan></text>
<text x="442" y="229" font-family='"Liberation Serif", "Noto Serif CJK SC", serif' font-size="33" font-weight="500" letter-spacing="1.4" fill="#000">加入输出均压控制</text>
<text x="628" y="342.6" font-family='"Liberation Serif", "Noto Serif CJK SC", serif' font-size="32" fill="#000"><tspan font-style="italic">i</tspan><tspan font-size="24" dy="9.6"><tspan font-style="italic">L</tspan>a</tspan></text>
<line x1="626.3" y1="313.6" x2="644.8" y2="313.6" stroke="#000" stroke-width="1.8"/>
</svg>
</body></html>
